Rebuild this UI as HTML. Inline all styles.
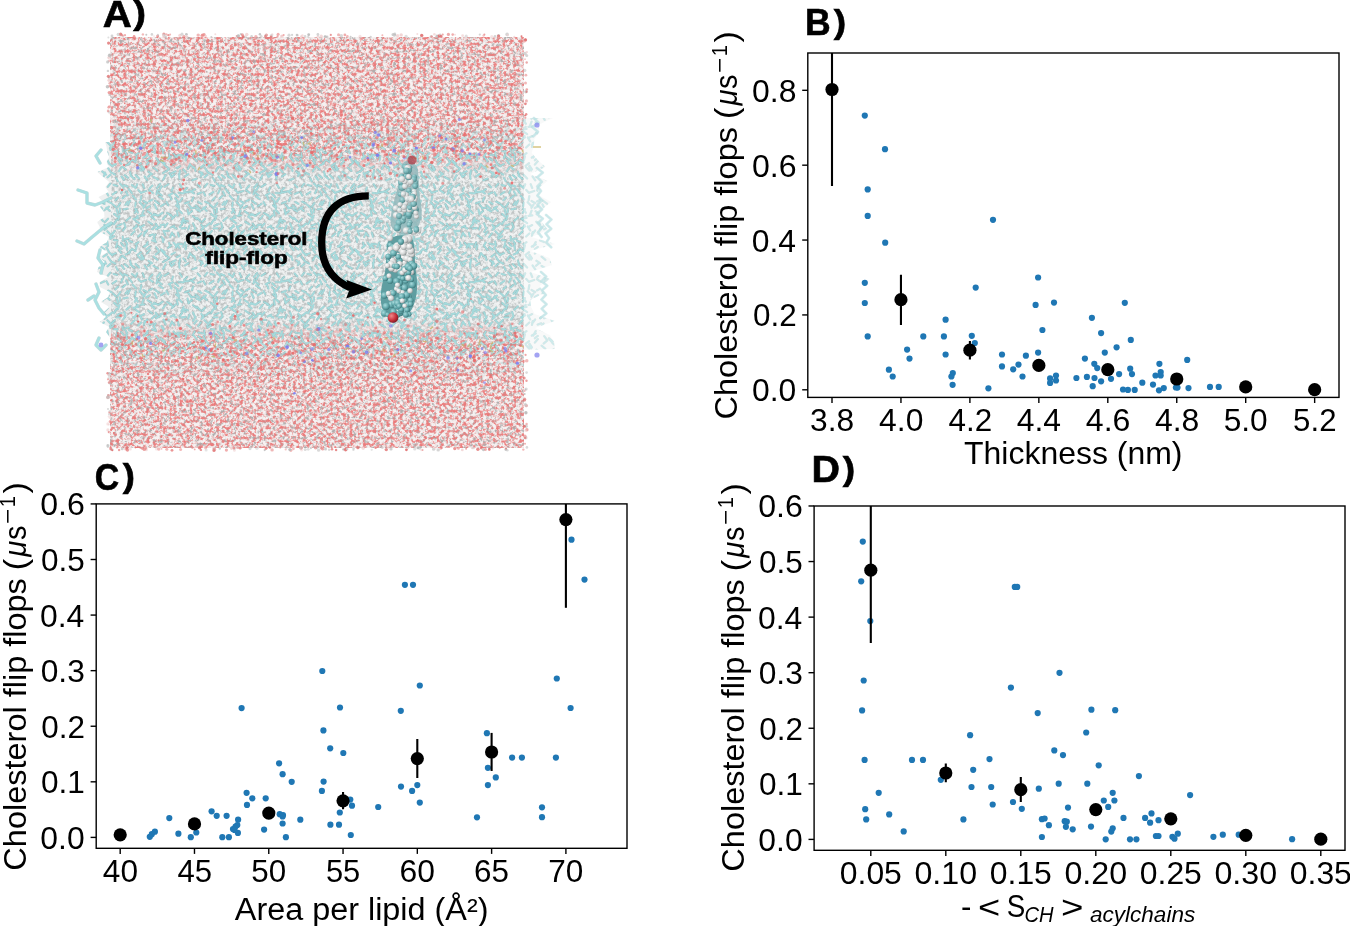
<!DOCTYPE html>
<html><head><meta charset="utf-8"><title>Cholesterol flip-flop figure</title><style>html,body{margin:0;padding:0;background:#fff;width:1350px;height:926px;overflow:hidden}</style></head><body>
<svg width="1350" height="926" viewBox="0 0 1350 926" style="position:absolute;left:0;top:0;will-change:transform">
<g style="font-family:'Liberation Sans',sans-serif;font-kerning:none" fill="#000">
<rect width="1350" height="926" fill="#fff"/>
<defs>
<clipPath id="cA"><rect x="110.5" y="37.0" width="413.5" height="410.5"/></clipPath>
<filter id="fW" x="0" y="0" width="1" height="1" filterUnits="objectBoundingBox" color-interpolation-filters="sRGB">
<feTurbulence type="fractalNoise" baseFrequency="0.3" numOctaves="3" seed="11" result="t1"/>
<feColorMatrix in="t1" type="matrix" values="0 0 0 0 0.92  0 0 0 0 0.48  0 0 0 0 0.48  1.8 0 0 0 -0.47" result="r1"/>
<feComponentTransfer in="r1" result="red"><feFuncA type="table" tableValues="0 0 0.1 0.6 0.9 1"/></feComponentTransfer>
<feTurbulence type="fractalNoise" baseFrequency="0.3" numOctaves="3" seed="29" result="t2"/>
<feColorMatrix in="t2" type="matrix" values="0 0 0 0 0.65  0 0 0 0 0.64  0 0 0 0 0.64  0 1.7 0 0 -0.49" result="g1"/>
<feComponentTransfer in="g1" result="grey"><feFuncA type="table" tableValues="0 0 0.15 0.6 0.85 0.9"/></feComponentTransfer>
<feFlood flood-color="#f6f2f2" result="w"/>
<feMerge><feMergeNode in="w"/><feMergeNode in="grey"/><feMergeNode in="red"/></feMerge>
</filter>
<filter id="fL" x="0" y="0" width="1" height="1" filterUnits="objectBoundingBox" color-interpolation-filters="sRGB">
<feTurbulence type="fractalNoise" baseFrequency="0.33" numOctaves="3" seed="17" result="t2"/>
<feColorMatrix in="t2" type="matrix" values="0 0 0 0 0.72  0 0 0 0 0.74  0 0 0 0 0.74  0 1.7 0 0 -0.42" result="g1"/>
<feComponentTransfer in="g1" result="grey"><feFuncA type="table" tableValues="0 0 0.2 0.6 0.85 0.9"/></feComponentTransfer>
<feTurbulence type="fractalNoise" baseFrequency="0.3" numOctaves="2" seed="41" result="t3"/>
<feColorMatrix in="t3" type="matrix" values="0 0 0 0 0.72  0 0 0 0 0.88  0 0 0 0 0.89  1.7 0 0 0 -0.45" result="c1"/>
<feComponentTransfer in="c1" result="cy"><feFuncA type="table" tableValues="0 0 0.1 0.5 0.8 0.9"/></feComponentTransfer>
<feFlood flood-color="#f0f2f2" result="w"/>
<feMerge><feMergeNode in="w"/><feMergeNode in="grey"/></feMerge>
</filter>
<linearGradient id="gL" x1="0" y1="0" x2="0" y2="460" gradientUnits="userSpaceOnUse">
<stop offset="0.326" stop-color="#fff" stop-opacity="0"/>
<stop offset="0.38" stop-color="#fff" stop-opacity="1"/>
<stop offset="0.695" stop-color="#fff" stop-opacity="1"/>
<stop offset="0.75" stop-color="#fff" stop-opacity="0"/>
</linearGradient>
<linearGradient id="gB" x1="0" y1="0" x2="0" y2="460" gradientUnits="userSpaceOnUse">
<stop offset="0.255" stop-color="#fff" stop-opacity="0"/>
<stop offset="0.30" stop-color="#fff" stop-opacity="0.6"/>
<stop offset="0.34" stop-color="#fff" stop-opacity="1"/>
<stop offset="0.73" stop-color="#fff" stop-opacity="1"/>
<stop offset="0.775" stop-color="#fff" stop-opacity="0.6"/>
<stop offset="0.825" stop-color="#fff" stop-opacity="0"/>
</linearGradient>
<mask id="mL" maskUnits="userSpaceOnUse" x="0" y="0" width="600" height="460"><rect x="0" y="0" width="600" height="460" fill="url(#gL)"/></mask>
<mask id="mB" maskUnits="userSpaceOnUse" x="0" y="0" width="600" height="460"><rect x="0" y="0" width="600" height="460" fill="url(#gB)"/></mask>
<pattern id="pB" patternUnits="userSpaceOnUse" x="3" y="7" width="97" height="89"><g fill="none" stroke-linecap="round"><path d="M-4.1 31.1l3.6 2.9M-1.4 42.9l-2.4 3.9M-0.4 46.8l-2.3 2.9M-3.2 61.6l2.8 3.5M-2.7 71.1l1.2 3.9M-0.5 82.6l-4.2 1.8M0.7 -0.5l2.5 2.8M10.3 -1.3l-2.5 3.1M13.5 -0.2l3.6 1M19.9 -1.6l3.3 3.7M24 0.1l3.5 1.5M31.9 0l3 2.2M37.2 -0.7l-1.6 3.8M42.7 -0.8l1.5 3.8M52.4 0.5l-2.9 3.1M60.2 -1l-3.3 3.9M61.6 1.2l-2.3 4.3M68.4 -0.7l-3.9 2.5M73 2.5l-1.3 3.4M79.8 -0.7l2 3.4M87.2 2.9l-3 3.1M94.9 4.1l-3.3 2.4M4.3 7.4l-3.6 1.6M6.5 7.3l1.7 3.2M16.4 6.9l-3.8 2.6M22.9 4.4l-1.8 3.8M26 6.5l1.8 3.7M28.8 4l3.1 4.1M38.3 4.9l2.8 3.1M46.2 6l-4.1 1.4M49 5.2l3.8 2.7M57.7 5.1l-1.2 4.3M58.6 8l3.1 2.3M72.7 8.2l-4.1 2.1M75.3 9.2l2.9 2.8M78.7 7.9l4.8 0.5M89.4 6.8l-5.1 0.7M90.4 6.3l3.6 2.1M1.3 16.9l3.2 2M8.2 16.6l3.5 1.7M18 12.6l-2.6 2.8M25.4 10.9l-2.9 2.5M30.1 15.7l-2.3 4.3M32.7 10.8l3.4 3.7M41.3 11.2l-0.7 4.1M43.5 16l3.6 2.1M52.4 14.6l-3.4 1.8M55.1 15.8l3.9 2.9M59.1 11.5l3.7 2.6M70 10.7l1.4 3.8M75.1 13.3l3 3.5M82.3 13.2l-2.5 3.7M88.9 16.8l-4 1.6M93.3 12.5l-1.5 3.7M-1.2 20.4l3.4 3.2M8.9 21.7l-4.1 3.1M12.9 19.5l3.1 2.8M20.4 18l-2.5 3.7M27.7 16.6l-2.2 3.1M35.7 17.4l-0.4 4M39.7 17.2l3.5 3.7M45.5 19.7l-2.1 3.1M49.9 21.2l-3.2 1.9M54.5 19.4l2.2 4.5M64.6 18.9l-3.8 2.3M66.5 16.9l1.8 3.4M76.1 20.3l3 2.9M77.1 17.5l2 3.9M88.5 19.4l2.7 3.3M95 22.6l-4 0.8M-0.6 24.4l3.8 2M6.4 22.7l3.3 3.2M16.7 24.3l1.1 4.5M19.8 23.5l-0.2 3.9M27.6 23.7l-3.9 0.7M36.8 24.1l-2 3.6M35.1 23.6l2.7 4.1M43.6 25.6l-1.4 3.8M47.6 26.3l3.5 2.3M53.9 28.9l4.2 1.9M62.7 27.7l-3.7 2.5M67 28l4.1 2M76.9 25.6l0.8 5.1M78.7 25l3.2 3.3M87.5 24.5l1.1 4.9M92 25.9l-2.8 2.4M-0.1 32.6l3.4 3.6M8 33.7l-3 3.4M14.1 29l3.6 2.9M19.5 30.7l-1.4 4.4M30 32.5l-3.6 3.2M38.5 32.8l-5 1.1M37.7 30.8l-3.2 4M44.3 30.3l-3.8 0.5M51.3 31.6l3.3 2.9M56.3 29.7l-4.2 0.6M65.8 30.6l-3 3.8M69 29.2l4 3M75.5 30.4l-3.5 3.6M83.6 32.9l-2.1 4.5M83.4 34.9l4.6 1.4M92.9 31.1l3.6 2.9M4.4 39.8l2.2 3.7M12.5 38.3l-3.9 3.2M16.7 34.8l-2.7 4.4M21.7 39l-4.3 1.9M24.1 38l1.3 3.7M36.6 40.1l-2.4 3.8M35.9 35.9l3.2 2.2M44.1 40.1l-3.9 2.2M48.3 36.7l3.9 2.6M55.7 38.7l2.9 4.1M64.1 39.5l-3.6 0.7M67.5 38.5l-2.7 3.4M74.1 40.7l-3.4 1.8M82.6 38.1l-2.8 3.9M82.4 35.5l3.2 2.4M93 38.3l1.6 3.8M6.8 41.4l-2.2 3.4M7.4 46.3l2.8 2.8M14.9 45.9l-2.9 3.6M20.5 43.3l-4 0.1M25.5 42.4l-2.5 3.2M36.9 41.5l-3.6 1.9M39.8 41.4l2.3 4M47.1 45.5l-2.8 3.7M55.2 41.4l-3.1 2.9M60.5 41.9l-4.4 2.3M63.4 45.8l2 4.4M68.8 45.9l-5.2 0.2M73.1 41.6l3.2 2M85.8 43l-4.1 0.5M89.5 40.6l-1.3 3.9M95.6 42.9l-2.4 3.9M3.9 48.4l-2.9 3.8M12.8 47.9l-2.8 4.3M14.1 51.1l-3.7 2.7M22.7 51.7l0.3 4M28.7 53.3l-3.7 0.8M34.6 46.3l-3.3 3.5M41.3 48.5l-3.2 3M44.6 47.2l-0.6 3.6M53.1 49.3l-3.5 1.3M55.6 49.4l-2 3.3M61.5 51.9l2.5 2.8M72 47.6l-1.8 4.4M71.9 48l2.5 3M77.9 47.6l1 3.9M86.8 50.5l4.1 2.8M96.6 46.8l-2.3 2.9M1.5 58.6l4.3 0.7M7.2 56.4l0.7 4.5M17.5 55.5l-3.6 -0.4M21 57.8l2.7 3.3M25.4 56.1l1.8 3.3M28.9 55.6l3.4 1.5M38.5 57.1l-3 2.1M47.7 57.1l-2.4 4.4M52 55.4l4 1.6M54 52.4l1.9 4.7M62.3 52.9l0.8 4.2M69.1 57.6l0.8 4M73.6 57.7l3.1 3.8M77.6 58.9l4.4 0.2M85.3 57.3l-2 4.6M94.7 57.4l-1.8 3.5M1.3 62.3l3.1 2.2M6.4 62.4l2.2 3.9M17.2 58l-1.2 4.4M18 61.1l3.7 2.9M26.3 60.5l0.7 4.3M31.9 63.8l3.6 2.3M36.8 60.4l-0.8 3.6M47.7 59.4l-3.9 2.2M49.8 61.9l-2.9 2.3M56.2 62.1l3.1 4.2M61 64.3l3.9 3M71.2 60.2l-3.1 2.6M78 59.1l-2.2 3.5M77.1 59.4l2.2 3.4M86.3 60.2l-0.7 4.1M93.8 61.6l2.8 3.5M6.8 69.2l-3.4 2.4M8.6 67l3.9 3.3M15.9 68.2l-4.3 1.7M18.7 64.4l2.4 3.3M29.9 67.6l-4.2 1.9M31.7 64.4l-3.1 3.2M41 67.2l-3.5 2.6M41.6 69.8l2.3 3.6M49.9 65.1l-3 3.5M59.1 66.7l-3.4 2.8M61.6 65.5l2.7 3M64.5 69.2l3.6 2.9M75 67.5l-3.6 1.9M79.9 70.5l-3.2 1.6M90.1 68.1l-2.1 4.8M89.9 68.2l3.4 3.4M2.3 75.5l3.7 3.1M7.9 71.8l2.5 3.7M10.8 76.2l4.4 2.4M21.1 71.5l-2.3 3.8M22.3 70.7l3.5 2.9M29.9 75.7l1.2 3.6M38.1 71.3l3.2 3.3M41.2 70.4l2 4.1M48.4 75.8l3.6 2.3M53.6 71.6l3.8 3.2M66.9 74.7l-4 2.3M69.2 72.6l-2.9 2.8M75.6 75.3l-3.9 2M80 74.3l-0.6 4.4M83.4 73.4l2.4 2.9M94.3 71.1l1.2 3.9M5.1 76.5l-1.2 3.7M10.4 78.8l-2.9 2.5M16 82l1.8 3.3M21.5 80.5l2.5 3.4M24.8 79.1l3.1 2.6M30.6 79.7l3.9 3.2M35.7 78.9l3.4 3.6M44.6 80.5l2.7 3.8M51.1 78.2l-3 2.5M53.6 80.9l4.5 2.6M65.5 79.3l-2.4 4.6M69.6 76.9l1.6 3.5M74.3 78.6l-2.8 2.5M78.9 77.9l0.6 4.9M88.4 78.1l-3.5 2.4M96.5 82.6l-4.2 1.8M0.7 88.5l2.5 2.8M10.3 87.7l-2.5 3.1M13.5 88.8l3.6 1M19.9 87.4l3.3 3.7M24 89.1l3.5 1.5M31.9 89l3 2.2M37.2 88.3l-1.6 3.8M42.7 88.2l1.5 3.8M52.4 89.5l-2.9 3.1M60.2 88l-3.3 3.9M61.6 90.2l-2.3 4.3M68.4 88.3l-3.9 2.5M79.8 88.3l2 3.4M97.7 -0.5l2.5 2.8M101.3 7.4l-3.6 1.6M98.3 16.9l3.2 2M95.8 20.4l3.4 3.2M96.4 24.4l3.8 2M96.9 32.6l3.4 3.6M100.9 48.4l-2.9 3.8M98.5 58.6l4.3 0.7M98.3 62.3l3.1 2.2M97.7 88.5l2.5 2.8" stroke="#74acae" stroke-width="2.3" opacity="0.5"/><path d="M-4.1 31.1l3.6 2.9M-1.4 42.9l-2.4 3.9M-0.4 46.8l-2.3 2.9M-3.2 61.6l2.8 3.5M-2.7 71.1l1.2 3.9M-0.5 82.6l-4.2 1.8M0.7 -0.5l2.5 2.8M10.3 -1.3l-2.5 3.1M13.5 -0.2l3.6 1M19.9 -1.6l3.3 3.7M24 0.1l3.5 1.5M31.9 0l3 2.2M37.2 -0.7l-1.6 3.8M42.7 -0.8l1.5 3.8M52.4 0.5l-2.9 3.1M60.2 -1l-3.3 3.9M61.6 1.2l-2.3 4.3M68.4 -0.7l-3.9 2.5M73 2.5l-1.3 3.4M79.8 -0.7l2 3.4M87.2 2.9l-3 3.1M94.9 4.1l-3.3 2.4M4.3 7.4l-3.6 1.6M6.5 7.3l1.7 3.2M16.4 6.9l-3.8 2.6M22.9 4.4l-1.8 3.8M26 6.5l1.8 3.7M28.8 4l3.1 4.1M38.3 4.9l2.8 3.1M46.2 6l-4.1 1.4M49 5.2l3.8 2.7M57.7 5.1l-1.2 4.3M58.6 8l3.1 2.3M72.7 8.2l-4.1 2.1M75.3 9.2l2.9 2.8M78.7 7.9l4.8 0.5M89.4 6.8l-5.1 0.7M90.4 6.3l3.6 2.1M1.3 16.9l3.2 2M8.2 16.6l3.5 1.7M18 12.6l-2.6 2.8M25.4 10.9l-2.9 2.5M30.1 15.7l-2.3 4.3M32.7 10.8l3.4 3.7M41.3 11.2l-0.7 4.1M43.5 16l3.6 2.1M52.4 14.6l-3.4 1.8M55.1 15.8l3.9 2.9M59.1 11.5l3.7 2.6M70 10.7l1.4 3.8M75.1 13.3l3 3.5M82.3 13.2l-2.5 3.7M88.9 16.8l-4 1.6M93.3 12.5l-1.5 3.7M-1.2 20.4l3.4 3.2M8.9 21.7l-4.1 3.1M12.9 19.5l3.1 2.8M20.4 18l-2.5 3.7M27.7 16.6l-2.2 3.1M35.7 17.4l-0.4 4M39.7 17.2l3.5 3.7M45.5 19.7l-2.1 3.1M49.9 21.2l-3.2 1.9M54.5 19.4l2.2 4.5M64.6 18.9l-3.8 2.3M66.5 16.9l1.8 3.4M76.1 20.3l3 2.9M77.1 17.5l2 3.9M88.5 19.4l2.7 3.3M95 22.6l-4 0.8M-0.6 24.4l3.8 2M6.4 22.7l3.3 3.2M16.7 24.3l1.1 4.5M19.8 23.5l-0.2 3.9M27.6 23.7l-3.9 0.7M36.8 24.1l-2 3.6M35.1 23.6l2.7 4.1M43.6 25.6l-1.4 3.8M47.6 26.3l3.5 2.3M53.9 28.9l4.2 1.9M62.7 27.7l-3.7 2.5M67 28l4.1 2M76.9 25.6l0.8 5.1M78.7 25l3.2 3.3M87.5 24.5l1.1 4.9M92 25.9l-2.8 2.4M-0.1 32.6l3.4 3.6M8 33.7l-3 3.4M14.1 29l3.6 2.9M19.5 30.7l-1.4 4.4M30 32.5l-3.6 3.2M38.5 32.8l-5 1.1M37.7 30.8l-3.2 4M44.3 30.3l-3.8 0.5M51.3 31.6l3.3 2.9M56.3 29.7l-4.2 0.6M65.8 30.6l-3 3.8M69 29.2l4 3M75.5 30.4l-3.5 3.6M83.6 32.9l-2.1 4.5M83.4 34.9l4.6 1.4M92.9 31.1l3.6 2.9M4.4 39.8l2.2 3.7M12.5 38.3l-3.9 3.2M16.7 34.8l-2.7 4.4M21.7 39l-4.3 1.9M24.1 38l1.3 3.7M36.6 40.1l-2.4 3.8M35.9 35.9l3.2 2.2M44.1 40.1l-3.9 2.2M48.3 36.7l3.9 2.6M55.7 38.7l2.9 4.1M64.1 39.5l-3.6 0.7M67.5 38.5l-2.7 3.4M74.1 40.7l-3.4 1.8M82.6 38.1l-2.8 3.9M82.4 35.5l3.2 2.4M93 38.3l1.6 3.8M6.8 41.4l-2.2 3.4M7.4 46.3l2.8 2.8M14.9 45.9l-2.9 3.6M20.5 43.3l-4 0.1M25.5 42.4l-2.5 3.2M36.9 41.5l-3.6 1.9M39.8 41.4l2.3 4M47.1 45.5l-2.8 3.7M55.2 41.4l-3.1 2.9M60.5 41.9l-4.4 2.3M63.4 45.8l2 4.4M68.8 45.9l-5.2 0.2M73.1 41.6l3.2 2M85.8 43l-4.1 0.5M89.5 40.6l-1.3 3.9M95.6 42.9l-2.4 3.9M3.9 48.4l-2.9 3.8M12.8 47.9l-2.8 4.3M14.1 51.1l-3.7 2.7M22.7 51.7l0.3 4M28.7 53.3l-3.7 0.8M34.6 46.3l-3.3 3.5M41.3 48.5l-3.2 3M44.6 47.2l-0.6 3.6M53.1 49.3l-3.5 1.3M55.6 49.4l-2 3.3M61.5 51.9l2.5 2.8M72 47.6l-1.8 4.4M71.9 48l2.5 3M77.9 47.6l1 3.9M86.8 50.5l4.1 2.8M96.6 46.8l-2.3 2.9M1.5 58.6l4.3 0.7M7.2 56.4l0.7 4.5M17.5 55.5l-3.6 -0.4M21 57.8l2.7 3.3M25.4 56.1l1.8 3.3M28.9 55.6l3.4 1.5M38.5 57.1l-3 2.1M47.7 57.1l-2.4 4.4M52 55.4l4 1.6M54 52.4l1.9 4.7M62.3 52.9l0.8 4.2M69.1 57.6l0.8 4M73.6 57.7l3.1 3.8M77.6 58.9l4.4 0.2M85.3 57.3l-2 4.6M94.7 57.4l-1.8 3.5M1.3 62.3l3.1 2.2M6.4 62.4l2.2 3.9M17.2 58l-1.2 4.4M18 61.1l3.7 2.9M26.3 60.5l0.7 4.3M31.9 63.8l3.6 2.3M36.8 60.4l-0.8 3.6M47.7 59.4l-3.9 2.2M49.8 61.9l-2.9 2.3M56.2 62.1l3.1 4.2M61 64.3l3.9 3M71.2 60.2l-3.1 2.6M78 59.1l-2.2 3.5M77.1 59.4l2.2 3.4M86.3 60.2l-0.7 4.1M93.8 61.6l2.8 3.5M6.8 69.2l-3.4 2.4M8.6 67l3.9 3.3M15.9 68.2l-4.3 1.7M18.7 64.4l2.4 3.3M29.9 67.6l-4.2 1.9M31.7 64.4l-3.1 3.2M41 67.2l-3.5 2.6M41.6 69.8l2.3 3.6M49.9 65.1l-3 3.5M59.1 66.7l-3.4 2.8M61.6 65.5l2.7 3M64.5 69.2l3.6 2.9M75 67.5l-3.6 1.9M79.9 70.5l-3.2 1.6M90.1 68.1l-2.1 4.8M89.9 68.2l3.4 3.4M2.3 75.5l3.7 3.1M7.9 71.8l2.5 3.7M10.8 76.2l4.4 2.4M21.1 71.5l-2.3 3.8M22.3 70.7l3.5 2.9M29.9 75.7l1.2 3.6M38.1 71.3l3.2 3.3M41.2 70.4l2 4.1M48.4 75.8l3.6 2.3M53.6 71.6l3.8 3.2M66.9 74.7l-4 2.3M69.2 72.6l-2.9 2.8M75.6 75.3l-3.9 2M80 74.3l-0.6 4.4M83.4 73.4l2.4 2.9M94.3 71.1l1.2 3.9M5.1 76.5l-1.2 3.7M10.4 78.8l-2.9 2.5M16 82l1.8 3.3M21.5 80.5l2.5 3.4M24.8 79.1l3.1 2.6M30.6 79.7l3.9 3.2M35.7 78.9l3.4 3.6M44.6 80.5l2.7 3.8M51.1 78.2l-3 2.5M53.6 80.9l4.5 2.6M65.5 79.3l-2.4 4.6M69.6 76.9l1.6 3.5M74.3 78.6l-2.8 2.5M78.9 77.9l0.6 4.9M88.4 78.1l-3.5 2.4M96.5 82.6l-4.2 1.8M0.7 88.5l2.5 2.8M10.3 87.7l-2.5 3.1M13.5 88.8l3.6 1M19.9 87.4l3.3 3.7M24 89.1l3.5 1.5M31.9 89l3 2.2M37.2 88.3l-1.6 3.8M42.7 88.2l1.5 3.8M52.4 89.5l-2.9 3.1M60.2 88l-3.3 3.9M61.6 90.2l-2.3 4.3M68.4 88.3l-3.9 2.5M79.8 88.3l2 3.4M97.7 -0.5l2.5 2.8M101.3 7.4l-3.6 1.6M98.3 16.9l3.2 2M95.8 20.4l3.4 3.2M96.4 24.4l3.8 2M96.9 32.6l3.4 3.6M100.9 48.4l-2.9 3.8M98.5 58.6l4.3 0.7M98.3 62.3l3.1 2.2M97.7 88.5l2.5 2.8" stroke="#a2dcde" stroke-width="1.3"/></g></pattern>
</defs>
<rect x="110.5" y="37.0" width="413.5" height="410.5" filter="url(#fW)"/>
<g mask="url(#mL)"><rect x="110.5" y="37.0" width="413.5" height="410.5" filter="url(#fL)"/></g>
<g mask="url(#mB)"><rect x="110.5" y="37.0" width="413.5" height="410.5" fill="url(#pB)"/></g>
<g clip-path="url(#cA)">
<circle cx="377.5" cy="155.3" r="1.8" fill="#7a7cf0" opacity="0.9"/>
<circle cx="375.3" cy="132.5" r="1.7" fill="#7a7cf0" opacity="0.7"/>
<circle cx="186.8" cy="154.3" r="1.5" fill="#7a7cf0" opacity="0.8"/>
<circle cx="478.9" cy="154.2" r="1.5" fill="#7a7cf0" opacity="0.7"/>
<circle cx="404.3" cy="157.9" r="1.6" fill="#7a7cf0" opacity="0.6"/>
<circle cx="464.1" cy="163.8" r="1.7" fill="#7a7cf0" opacity="0.8"/>
<circle cx="470" cy="153.7" r="1.3" fill="#7a7cf0" opacity="0.9"/>
<circle cx="484.4" cy="140" r="1.4" fill="#7a7cf0" opacity="0.7"/>
<circle cx="201.7" cy="140.3" r="1.4" fill="#7a7cf0" opacity="0.7"/>
<circle cx="459.4" cy="119.6" r="1.6" fill="#7a7cf0" opacity="0.7"/>
<circle cx="307.3" cy="165.4" r="1.6" fill="#7a7cf0" opacity="0.7"/>
<circle cx="416.4" cy="148" r="1.6" fill="#7a7cf0" opacity="0.9"/>
<circle cx="187.8" cy="120.5" r="1.8" fill="#7a7cf0" opacity="0.8"/>
<circle cx="373.6" cy="143.8" r="1.5" fill="#7a7cf0" opacity="0.7"/>
<circle cx="137.7" cy="167.8" r="1.7" fill="#7a7cf0" opacity="0.8"/>
<circle cx="350.1" cy="157.1" r="1.4" fill="#7a7cf0" opacity="0.7"/>
<circle cx="276.5" cy="174.1" r="2" fill="#7a7cf0" opacity="0.9"/>
<circle cx="301.7" cy="137.6" r="1.4" fill="#7a7cf0" opacity="0.9"/>
<circle cx="140.7" cy="148.2" r="1.7" fill="#7a7cf0" opacity="0.9"/>
<circle cx="446.1" cy="139.1" r="1.4" fill="#7a7cf0" opacity="0.8"/>
<circle cx="452.7" cy="149.2" r="2" fill="#7a7cf0" opacity="0.9"/>
<circle cx="378.5" cy="135.1" r="1.8" fill="#7a7cf0" opacity="0.8"/>
<circle cx="433.4" cy="148.1" r="1.8" fill="#7a7cf0" opacity="0.9"/>
<circle cx="390.5" cy="163" r="1.6" fill="#7a7cf0" opacity="0.9"/>
<circle cx="439.7" cy="135.9" r="1.5" fill="#7a7cf0" opacity="0.8"/>
<circle cx="367.8" cy="158.5" r="1.4" fill="#7a7cf0" opacity="0.9"/>
<circle cx="175.1" cy="142.4" r="1.4" fill="#7a7cf0" opacity="0.8"/>
<circle cx="245.5" cy="156.2" r="2" fill="#7a7cf0" opacity="0.8"/>
<circle cx="253.8" cy="132" r="1.4" fill="#7a7cf0" opacity="0.6"/>
<circle cx="232.5" cy="138" r="1.7" fill="#7a7cf0" opacity="0.8"/>
<circle cx="462.3" cy="150.7" r="1.8" fill="#7a7cf0" opacity="0.7"/>
<circle cx="277.3" cy="157.1" r="1.7" fill="#7a7cf0" opacity="0.8"/>
<circle cx="394.2" cy="150.7" r="1.9" fill="#7a7cf0" opacity="0.8"/>
<circle cx="373.2" cy="145.3" r="1.5" fill="#7a7cf0" opacity="0.8"/>
<path d="M199.8 167.2l-1.8 3" stroke="#c9b56a" stroke-width="1.4" opacity="0.8"/>
<path d="M160.4 160.2l3.3 1.3" stroke="#c9b56a" stroke-width="1.4" opacity="0.8"/>
<path d="M284.1 156.7l-0.6 3.4" stroke="#c9b56a" stroke-width="1.4" opacity="0.8"/>
<path d="M310.8 143l-3.3 1" stroke="#c9b56a" stroke-width="1.4" opacity="0.8"/>
<path d="M399.3 152.1l-1.1 3.3" stroke="#c9b56a" stroke-width="1.4" opacity="0.8"/>
<path d="M413.3 157.4l3.1 1.7" stroke="#c9b56a" stroke-width="1.4" opacity="0.8"/>
<path d="M243.8 148.5l2.1 2.8" stroke="#c9b56a" stroke-width="1.4" opacity="0.8"/>
<path d="M303.2 142l0.8 3.4" stroke="#c9b56a" stroke-width="1.4" opacity="0.8"/>
<path d="M522 149.5l1.5 3.2" stroke="#c9b56a" stroke-width="1.4" opacity="0.8"/>
<path d="M377.3 146.9l3.5 0.2" stroke="#c9b56a" stroke-width="1.4" opacity="0.8"/>
<path d="M131.3 149.2l-2.9 2" stroke="#c9b56a" stroke-width="1.4" opacity="0.8"/>
<path d="M151 118.7l0.2 3.5" stroke="#c9b56a" stroke-width="1.4" opacity="0.8"/>
<path d="M422.6 155.8l0.9 3.4" stroke="#c9b56a" stroke-width="1.4" opacity="0.8"/>
<path d="M164.5 156.9l3.3 1" stroke="#c9b56a" stroke-width="1.4" opacity="0.8"/>
<path d="M382.4 143.5l-0.6 3.4" stroke="#c9b56a" stroke-width="1.4" opacity="0.8"/>
<path d="M486.1 165.1l2.2 2.7" stroke="#c9b56a" stroke-width="1.4" opacity="0.8"/>
<path d="M252.5 152l2.2 2.8" stroke="#c9b56a" stroke-width="1.4" opacity="0.8"/>
<path d="M257.9 155l0.1 3.5" stroke="#c9b56a" stroke-width="1.4" opacity="0.8"/>
<path d="M249.2 170.2l1.6 3.1" stroke="#c9b56a" stroke-width="1.4" opacity="0.8"/>
<path d="M195.8 150.2l0.1 3.5" stroke="#c9b56a" stroke-width="1.4" opacity="0.8"/>
<path d="M160.8 157l3.2 1.4" stroke="#c9b56a" stroke-width="1.4" opacity="0.8"/>
<path d="M510.8 165.3l3.4 1" stroke="#c9b56a" stroke-width="1.4" opacity="0.8"/>
<circle cx="521.6" cy="135.6" r="1.3" fill="#e86a6a" opacity="0.7"/>
<circle cx="275.5" cy="164.1" r="1.1" fill="#e86a6a" opacity="0.5"/>
<circle cx="449.7" cy="125.1" r="1" fill="#e86a6a" opacity="0.7"/>
<circle cx="335.2" cy="156.3" r="1.3" fill="#e86a6a" opacity="0.6"/>
<circle cx="388.7" cy="139.8" r="1.1" fill="#e86a6a" opacity="0.5"/>
<circle cx="372.2" cy="121.7" r="1.4" fill="#e86a6a" opacity="0.6"/>
<circle cx="384.6" cy="163.4" r="1.1" fill="#e86a6a" opacity="0.9"/>
<circle cx="117" cy="139.7" r="1.6" fill="#e86a6a" opacity="0.6"/>
<circle cx="238.8" cy="144.1" r="1.1" fill="#e86a6a" opacity="0.5"/>
<circle cx="119.9" cy="121.1" r="1.4" fill="#e86a6a" opacity="0.7"/>
<circle cx="487.5" cy="132.6" r="1.6" fill="#e86a6a" opacity="0.8"/>
<circle cx="284.8" cy="152.3" r="1.5" fill="#e86a6a" opacity="0.7"/>
<circle cx="139.2" cy="142.9" r="1.7" fill="#e86a6a" opacity="0.8"/>
<circle cx="175.4" cy="132.6" r="1.5" fill="#e86a6a" opacity="0.7"/>
<circle cx="145.6" cy="118.5" r="1.4" fill="#e86a6a" opacity="0.7"/>
<circle cx="115.3" cy="157.9" r="1.5" fill="#e86a6a" opacity="0.9"/>
<circle cx="464.8" cy="153.6" r="1.3" fill="#e86a6a" opacity="0.6"/>
<circle cx="345.6" cy="160" r="1.3" fill="#e86a6a" opacity="0.8"/>
<circle cx="491.2" cy="134.3" r="1.5" fill="#e86a6a" opacity="0.6"/>
<circle cx="424" cy="171.8" r="1.2" fill="#e86a6a" opacity="0.7"/>
<circle cx="316.5" cy="135.7" r="1.6" fill="#e86a6a" opacity="0.5"/>
<circle cx="124.7" cy="122.6" r="1" fill="#e86a6a" opacity="0.9"/>
<circle cx="394.1" cy="140.3" r="1.2" fill="#e86a6a" opacity="0.7"/>
<circle cx="505.6" cy="141.3" r="1.6" fill="#e86a6a" opacity="0.7"/>
<circle cx="241.6" cy="176.5" r="1.3" fill="#e86a6a" opacity="0.6"/>
<circle cx="509.2" cy="143.8" r="1.1" fill="#e86a6a" opacity="0.9"/>
<circle cx="179" cy="157.8" r="1.5" fill="#e86a6a" opacity="0.7"/>
<circle cx="223.4" cy="134.7" r="1.5" fill="#e86a6a" opacity="0.6"/>
<circle cx="226.7" cy="135.3" r="1.6" fill="#e86a6a" opacity="0.7"/>
<circle cx="469.3" cy="135.9" r="1.5" fill="#e86a6a" opacity="0.5"/>
<circle cx="173.7" cy="162.5" r="1.7" fill="#e86a6a" opacity="0.6"/>
<circle cx="270.9" cy="133.6" r="1.3" fill="#e86a6a" opacity="0.8"/>
<circle cx="207.9" cy="128.7" r="1.2" fill="#e86a6a" opacity="0.6"/>
<circle cx="176.2" cy="159.4" r="1.6" fill="#e86a6a" opacity="0.8"/>
<circle cx="433.7" cy="149.9" r="1.6" fill="#e86a6a" opacity="0.9"/>
<circle cx="172" cy="160.6" r="1.7" fill="#e86a6a" opacity="0.8"/>
<circle cx="336.9" cy="155.2" r="1.4" fill="#e86a6a" opacity="0.7"/>
<circle cx="311" cy="133.4" r="1.3" fill="#e86a6a" opacity="0.8"/>
<circle cx="408.7" cy="165.7" r="1" fill="#e86a6a" opacity="0.7"/>
<circle cx="403" cy="150.5" r="1.6" fill="#e86a6a" opacity="0.7"/>
<circle cx="115.4" cy="137" r="1.4" fill="#e86a6a" opacity="0.6"/>
<circle cx="137.3" cy="165.2" r="1.3" fill="#e86a6a" opacity="0.7"/>
<circle cx="218.3" cy="159" r="1.4" fill="#e86a6a" opacity="0.6"/>
<circle cx="199" cy="139.8" r="1.1" fill="#e86a6a" opacity="0.8"/>
<circle cx="230.8" cy="138.7" r="1.5" fill="#e86a6a" opacity="0.8"/>
<circle cx="212.9" cy="144.9" r="1.6" fill="#e86a6a" opacity="0.7"/>
<circle cx="468" cy="139.6" r="1.1" fill="#e86a6a" opacity="0.6"/>
<circle cx="124" cy="164.9" r="1.2" fill="#e86a6a" opacity="0.7"/>
<circle cx="150.2" cy="161.1" r="1.4" fill="#e86a6a" opacity="0.7"/>
<circle cx="199.4" cy="183.1" r="1.6" fill="#e86a6a" opacity="0.6"/>
<circle cx="151.5" cy="131.7" r="1.4" fill="#e86a6a" opacity="0.6"/>
<circle cx="458.7" cy="159" r="1.2" fill="#e86a6a" opacity="0.9"/>
<circle cx="267.1" cy="156.2" r="1.3" fill="#e86a6a" opacity="0.8"/>
<circle cx="311.8" cy="152.7" r="1.6" fill="#e86a6a" opacity="0.9"/>
<circle cx="466.6" cy="128.9" r="1.5" fill="#e86a6a" opacity="0.5"/>
<circle cx="242.6" cy="124.2" r="1.2" fill="#e86a6a" opacity="0.5"/>
<circle cx="490.4" cy="141.8" r="1.6" fill="#e86a6a" opacity="0.6"/>
<circle cx="208.3" cy="151.6" r="1.5" fill="#e86a6a" opacity="0.6"/>
<circle cx="499" cy="157.2" r="1.4" fill="#e86a6a" opacity="0.5"/>
<circle cx="489.7" cy="150" r="1.2" fill="#e86a6a" opacity="0.7"/>
<circle cx="415.8" cy="153.3" r="1.1" fill="#e86a6a" opacity="0.6"/>
<circle cx="113.9" cy="133.7" r="1.1" fill="#e86a6a" opacity="0.8"/>
<circle cx="354.2" cy="130.3" r="1.3" fill="#e86a6a" opacity="0.6"/>
<circle cx="272" cy="160.4" r="1.3" fill="#e86a6a" opacity="0.7"/>
<circle cx="293.1" cy="164.5" r="1.6" fill="#e86a6a" opacity="0.7"/>
<circle cx="487" cy="118.8" r="1.6" fill="#e86a6a" opacity="0.6"/>
<circle cx="454.2" cy="171.6" r="1.3" fill="#e86a6a" opacity="0.8"/>
<circle cx="431.8" cy="162.4" r="1.7" fill="#e86a6a" opacity="0.9"/>
<circle cx="270" cy="158.3" r="1.7" fill="#e86a6a" opacity="0.6"/>
<circle cx="207.7" cy="152.9" r="1.1" fill="#e86a6a" opacity="0.6"/>
<circle cx="248.1" cy="151.1" r="1.3" fill="#e86a6a" opacity="0.9"/>
<circle cx="292.1" cy="142" r="1.1" fill="#e86a6a" opacity="0.7"/>
<circle cx="213" cy="172.6" r="1.2" fill="#e86a6a" opacity="0.8"/>
<circle cx="218.8" cy="155.3" r="1.1" fill="#e86a6a" opacity="0.7"/>
<circle cx="310" cy="163" r="1.4" fill="#e86a6a" opacity="0.8"/>
<circle cx="492.2" cy="167.8" r="1.4" fill="#e86a6a" opacity="0.8"/>
<circle cx="160.5" cy="153.3" r="1.3" fill="#e86a6a" opacity="0.6"/>
<circle cx="209.7" cy="109.5" r="1.2" fill="#e86a6a" opacity="0.7"/>
<circle cx="282.5" cy="167.8" r="1.7" fill="#e86a6a" opacity="0.6"/>
<circle cx="374.8" cy="177.8" r="1.3" fill="#e86a6a" opacity="0.7"/>
<circle cx="321.7" cy="125.5" r="1.7" fill="#e86a6a" opacity="0.6"/>
<circle cx="259.7" cy="161.9" r="1" fill="#e86a6a" opacity="0.7"/>
<circle cx="225.4" cy="165" r="1.4" fill="#e86a6a" opacity="0.6"/>
<circle cx="183.8" cy="179.9" r="1.4" fill="#e86a6a" opacity="0.8"/>
<circle cx="477.5" cy="148.7" r="1.1" fill="#e86a6a" opacity="0.6"/>
<circle cx="387.2" cy="125.1" r="1.4" fill="#e86a6a" opacity="0.6"/>
<circle cx="238.3" cy="176.5" r="1.4" fill="#e86a6a" opacity="0.8"/>
<circle cx="488.5" cy="153.5" r="1.4" fill="#e86a6a" opacity="0.6"/>
<circle cx="227.4" cy="127.2" r="1.1" fill="#e86a6a" opacity="0.7"/>
<circle cx="425.5" cy="122.4" r="1.1" fill="#e86a6a" opacity="0.8"/>
<circle cx="213.7" cy="109" r="1" fill="#e86a6a" opacity="0.8"/>
<circle cx="348.1" cy="134" r="1.6" fill="#e86a6a" opacity="0.6"/>
<circle cx="495.1" cy="158" r="1.2" fill="#e86a6a" opacity="0.6"/>
<circle cx="453.1" cy="150.8" r="1.6" fill="#e86a6a" opacity="0.8"/>
<circle cx="468.7" cy="121.7" r="1.2" fill="#e86a6a" opacity="0.5"/>
<circle cx="412.3" cy="136.2" r="1.3" fill="#e86a6a" opacity="0.5"/>
<circle cx="442.6" cy="159.9" r="1.1" fill="#e86a6a" opacity="0.7"/>
<circle cx="180.6" cy="160.9" r="1.2" fill="#e86a6a" opacity="0.7"/>
<circle cx="504.6" cy="188.3" r="1.5" fill="#e86a6a" opacity="0.6"/>
<circle cx="456.1" cy="156.5" r="1.4" fill="#e86a6a" opacity="0.7"/>
<circle cx="209.6" cy="138" r="1.1" fill="#e86a6a" opacity="0.6"/>
<circle cx="223.8" cy="157.1" r="1.3" fill="#e86a6a" opacity="0.7"/>
<circle cx="424.9" cy="158.3" r="1.6" fill="#e86a6a" opacity="0.7"/>
<circle cx="205.1" cy="157.2" r="1.2" fill="#e86a6a" opacity="0.8"/>
<circle cx="301.6" cy="121" r="1" fill="#e86a6a" opacity="0.8"/>
<circle cx="397" cy="175.5" r="1.4" fill="#e86a6a" opacity="0.7"/>
<circle cx="126.4" cy="157.1" r="1.3" fill="#e86a6a" opacity="0.7"/>
<circle cx="456.6" cy="151" r="1.5" fill="#e86a6a" opacity="0.8"/>
<circle cx="343.8" cy="166" r="1.3" fill="#e86a6a" opacity="0.7"/>
<circle cx="245.2" cy="150.7" r="1.1" fill="#e86a6a" opacity="0.8"/>
<circle cx="256.9" cy="168.2" r="1" fill="#e86a6a" opacity="0.5"/>
<circle cx="188.7" cy="134.8" r="1.2" fill="#e86a6a" opacity="0.6"/>
<circle cx="386.9" cy="154.6" r="1.3" fill="#e86a6a" opacity="0.9"/>
<circle cx="298.2" cy="168.5" r="1" fill="#e86a6a" opacity="0.9"/>
<circle cx="512" cy="183" r="1.4" fill="#e86a6a" opacity="0.9"/>
<circle cx="368.1" cy="160" r="1.4" fill="#e86a6a" opacity="0.8"/>
<circle cx="126.2" cy="158.6" r="1" fill="#e86a6a" opacity="0.6"/>
<circle cx="127.7" cy="156.8" r="1.1" fill="#e86a6a" opacity="0.6"/>
<circle cx="180.2" cy="189.6" r="1.6" fill="#e86a6a" opacity="0.9"/>
<circle cx="146.3" cy="167" r="1.4" fill="#e86a6a" opacity="0.9"/>
<circle cx="292.6" cy="118.8" r="1.6" fill="#e86a6a" opacity="0.7"/>
<circle cx="224.3" cy="149.6" r="1.5" fill="#e86a6a" opacity="0.8"/>
<circle cx="229.7" cy="128.4" r="1.2" fill="#e86a6a" opacity="0.7"/>
<circle cx="337.2" cy="159" r="1.3" fill="#e86a6a" opacity="0.9"/>
<circle cx="236.5" cy="122.7" r="1" fill="#e86a6a" opacity="0.6"/>
<circle cx="189.2" cy="156.1" r="1.4" fill="#e86a6a" opacity="0.9"/>
<circle cx="274.6" cy="160.5" r="1.7" fill="#e86a6a" opacity="0.6"/>
<circle cx="245.4" cy="147.6" r="1.2" fill="#e86a6a" opacity="0.9"/>
<circle cx="200.4" cy="155.1" r="1.4" fill="#e86a6a" opacity="0.7"/>
<circle cx="254.7" cy="153.2" r="1.5" fill="#e86a6a" opacity="0.7"/>
<circle cx="454.8" cy="135.5" r="1.4" fill="#e86a6a" opacity="0.9"/>
<circle cx="390.4" cy="173.5" r="1.7" fill="#e86a6a" opacity="0.7"/>
<circle cx="386.5" cy="158.8" r="1.4" fill="#e86a6a" opacity="0.6"/>
<circle cx="456.7" cy="160.3" r="1.1" fill="#e86a6a" opacity="0.8"/>
<circle cx="490.9" cy="164.7" r="1.4" fill="#e86a6a" opacity="0.8"/>
<circle cx="401" cy="151.7" r="1.3" fill="#e86a6a" opacity="0.5"/>
<circle cx="280.4" cy="144.4" r="1.3" fill="#e86a6a" opacity="0.9"/>
<circle cx="173.1" cy="149.5" r="1.6" fill="#e86a6a" opacity="0.6"/>
<circle cx="367.2" cy="176" r="1.5" fill="#e86a6a" opacity="0.6"/>
<circle cx="256.6" cy="172.1" r="1.2" fill="#e86a6a" opacity="0.7"/>
<circle cx="356.5" cy="150.9" r="1.5" fill="#e86a6a" opacity="0.9"/>
<circle cx="268.1" cy="150.5" r="1.2" fill="#e86a6a" opacity="0.7"/>
<circle cx="441.9" cy="137.7" r="1.2" fill="#e86a6a" opacity="0.8"/>
<circle cx="247.3" cy="158.1" r="1.7" fill="#e86a6a" opacity="0.7"/>
<circle cx="211.4" cy="132.4" r="1.6" fill="#e86a6a" opacity="0.9"/>
<circle cx="122" cy="190" r="1.2" fill="#e86a6a" opacity="0.9"/>
<circle cx="234.9" cy="138.5" r="1.4" fill="#e86a6a" opacity="0.7"/>
<circle cx="451.3" cy="148.9" r="1.5" fill="#e86a6a" opacity="0.7"/>
<circle cx="302.5" cy="175.2" r="1.3" fill="#e86a6a" opacity="0.5"/>
<circle cx="139.6" cy="158.1" r="1.2" fill="#e86a6a" opacity="0.7"/>
<circle cx="317.6" cy="130.1" r="1.1" fill="#e86a6a" opacity="0.6"/>
<circle cx="284.8" cy="122.5" r="1.3" fill="#e86a6a" opacity="0.8"/>
<circle cx="481.5" cy="131.1" r="1.5" fill="#e86a6a" opacity="0.5"/>
<circle cx="260.8" cy="139.2" r="1.3" fill="#e86a6a" opacity="0.5"/>
<circle cx="239.3" cy="162.5" r="1.2" fill="#e86a6a" opacity="0.6"/>
<circle cx="496.4" cy="172.9" r="1.4" fill="#e86a6a" opacity="0.9"/>
<circle cx="371.2" cy="122.9" r="1.1" fill="#e86a6a" opacity="0.9"/>
<circle cx="281.1" cy="147.6" r="1" fill="#e86a6a" opacity="0.7"/>
<circle cx="155.4" cy="131.5" r="1.5" fill="#e86a6a" opacity="0.8"/>
<circle cx="115.9" cy="142.4" r="1" fill="#e86a6a" opacity="0.8"/>
<circle cx="339" cy="166" r="1.1" fill="#e86a6a" opacity="0.5"/>
<circle cx="123.7" cy="144" r="1.1" fill="#e86a6a" opacity="0.8"/>
<circle cx="344.8" cy="175.5" r="1.4" fill="#e86a6a" opacity="0.6"/>
<circle cx="193.2" cy="127.4" r="1.4" fill="#e86a6a" opacity="0.6"/>
<circle cx="324.8" cy="148.1" r="1.1" fill="#e86a6a" opacity="0.9"/>
<circle cx="313.3" cy="151.8" r="1.3" fill="#e86a6a" opacity="0.7"/>
<circle cx="440.8" cy="137.7" r="1.4" fill="#e86a6a" opacity="0.6"/>
<circle cx="209.5" cy="132.3" r="1.2" fill="#e86a6a" opacity="0.5"/>
<circle cx="370.2" cy="176.6" r="1" fill="#e86a6a" opacity="0.6"/>
<circle cx="368.3" cy="121.9" r="1" fill="#e86a6a" opacity="0.6"/>
<circle cx="274.5" cy="152.4" r="1" fill="#e86a6a" opacity="0.6"/>
<circle cx="203.2" cy="147.2" r="1.1" fill="#e86a6a" opacity="0.7"/>
<circle cx="182.9" cy="184.1" r="1.3" fill="#e86a6a" opacity="0.7"/>
<circle cx="215.2" cy="153.2" r="1.6" fill="#e86a6a" opacity="0.9"/>
<circle cx="139.3" cy="141.4" r="1.4" fill="#e86a6a" opacity="0.7"/>
<circle cx="275.5" cy="130.5" r="1.5" fill="#e86a6a" opacity="0.5"/>
<circle cx="468.8" cy="160.3" r="1.3" fill="#e86a6a" opacity="0.5"/>
<circle cx="474.6" cy="157.1" r="1.3" fill="#e86a6a" opacity="0.6"/>
<circle cx="249.4" cy="162" r="1.5" fill="#e86a6a" opacity="0.9"/>
<circle cx="285.3" cy="141.5" r="1.6" fill="#e86a6a" opacity="0.7"/>
<circle cx="270.9" cy="137.6" r="1.3" fill="#e86a6a" opacity="0.6"/>
<circle cx="121.9" cy="155" r="1.6" fill="#e86a6a" opacity="0.6"/>
<circle cx="164.9" cy="158.6" r="1.6" fill="#e86a6a" opacity="0.7"/>
<circle cx="303.7" cy="170.9" r="1.6" fill="#e86a6a" opacity="0.6"/>
<circle cx="262.9" cy="155.4" r="1.4" fill="#e86a6a" opacity="0.7"/>
<circle cx="233.8" cy="167.9" r="1.3" fill="#e86a6a" opacity="0.6"/>
<circle cx="464.7" cy="134.7" r="1.7" fill="#e86a6a" opacity="0.7"/>
<circle cx="292.7" cy="117.9" r="1.7" fill="#e86a6a" opacity="0.7"/>
<circle cx="277.8" cy="143.7" r="1.5" fill="#e86a6a" opacity="0.8"/>
<circle cx="149.1" cy="151.5" r="1.6" fill="#e86a6a" opacity="0.8"/>
<circle cx="426.2" cy="177.1" r="1.1" fill="#e86a6a" opacity="0.5"/>
<circle cx="404" cy="156.6" r="1.5" fill="#e86a6a" opacity="0.8"/>
<circle cx="206.8" cy="164.7" r="1" fill="#e86a6a" opacity="0.9"/>
<circle cx="442.8" cy="183.2" r="1.5" fill="#e86a6a" opacity="0.6"/>
<circle cx="407.3" cy="163.2" r="1.6" fill="#e86a6a" opacity="0.7"/>
<circle cx="258" cy="158.9" r="1.6" fill="#e86a6a" opacity="0.7"/>
<circle cx="369.9" cy="130" r="1.7" fill="#e86a6a" opacity="0.6"/>
<circle cx="262.3" cy="128.9" r="1.6" fill="#e86a6a" opacity="0.8"/>
<circle cx="480.6" cy="176.6" r="1.3" fill="#e86a6a" opacity="0.9"/>
<circle cx="276.3" cy="155.9" r="1.6" fill="#e86a6a" opacity="0.5"/>
<circle cx="231.4" cy="149.1" r="1.2" fill="#e86a6a" opacity="0.8"/>
<circle cx="278" cy="173.7" r="1.4" fill="#e86a6a" opacity="0.7"/>
<circle cx="423" cy="166.6" r="1.4" fill="#e86a6a" opacity="0.8"/>
<circle cx="499" cy="173.8" r="1.4" fill="#e86a6a" opacity="0.6"/>
<circle cx="316.4" cy="115.8" r="1.5" fill="#e86a6a" opacity="0.7"/>
<circle cx="496.5" cy="147.3" r="1.1" fill="#e86a6a" opacity="0.8"/>
<circle cx="381.2" cy="178.5" r="1.4" fill="#e86a6a" opacity="0.8"/>
<circle cx="512.4" cy="133" r="1.5" fill="#e86a6a" opacity="0.5"/>
<circle cx="242.6" cy="154.5" r="1.6" fill="#e86a6a" opacity="0.7"/>
<circle cx="417.6" cy="137.5" r="1.7" fill="#e86a6a" opacity="0.7"/>
<circle cx="202.4" cy="137.4" r="1.7" fill="#e86a6a" opacity="0.7"/>
<circle cx="251.5" cy="149.5" r="1.4" fill="#e86a6a" opacity="0.8"/>
<circle cx="456.7" cy="138.6" r="1.5" fill="#e86a6a" opacity="0.6"/>
<circle cx="388.5" cy="138.4" r="1.6" fill="#e86a6a" opacity="0.8"/>
<circle cx="312.9" cy="166.7" r="1.6" fill="#e86a6a" opacity="0.7"/>
<circle cx="183.3" cy="188.6" r="1.1" fill="#e86a6a" opacity="0.8"/>
<circle cx="208.6" cy="149.3" r="1.1" fill="#e86a6a" opacity="0.6"/>
<circle cx="149.6" cy="193.1" r="1.4" fill="#e86a6a" opacity="0.6"/>
<circle cx="393.9" cy="133.7" r="1.5" fill="#e86a6a" opacity="0.5"/>
<circle cx="396.1" cy="153.6" r="1.1" fill="#e86a6a" opacity="0.8"/>
<circle cx="398.7" cy="168.8" r="1.4" fill="#e86a6a" opacity="0.6"/>
<circle cx="370.5" cy="170.7" r="1.1" fill="#e86a6a" opacity="0.7"/>
<circle cx="498.8" cy="147.9" r="1.7" fill="#e86a6a" opacity="0.8"/>
<circle cx="278.6" cy="143.7" r="1.1" fill="#e86a6a" opacity="0.8"/>
<circle cx="116.6" cy="147.3" r="1.6" fill="#e86a6a" opacity="0.6"/>
<circle cx="157" cy="152.4" r="1.2" fill="#e86a6a" opacity="0.9"/>
<circle cx="177.9" cy="132.5" r="1.2" fill="#e86a6a" opacity="0.7"/>
<circle cx="130.3" cy="159" r="1.3" fill="#e86a6a" opacity="0.9"/>
<circle cx="311.3" cy="151.8" r="1.5" fill="#e86a6a" opacity="0.6"/>
<circle cx="377" cy="137.6" r="1.7" fill="#e86a6a" opacity="0.7"/>
<circle cx="434.1" cy="145.4" r="1.1" fill="#e86a6a" opacity="0.6"/>
<circle cx="363.9" cy="165.6" r="1.5" fill="#e86a6a" opacity="0.8"/>
<circle cx="380.2" cy="175.4" r="1" fill="#e86a6a" opacity="0.7"/>
<circle cx="171.2" cy="164.5" r="1.3" fill="#e86a6a" opacity="0.9"/>
<circle cx="327.7" cy="171.2" r="1.1" fill="#e86a6a" opacity="0.8"/>
<circle cx="239.2" cy="137.2" r="1.4" fill="#e86a6a" opacity="0.7"/>
<circle cx="377.9" cy="144.8" r="1.1" fill="#e86a6a" opacity="0.9"/>
<circle cx="456.3" cy="161.1" r="1.2" fill="#e86a6a" opacity="0.5"/>
<circle cx="155.6" cy="163.7" r="1.7" fill="#e86a6a" opacity="0.7"/>
<circle cx="132.3" cy="117.9" r="1.2" fill="#e86a6a" opacity="0.7"/>
<circle cx="412.2" cy="173.7" r="1.4" fill="#e86a6a" opacity="0.6"/>
<circle cx="205.1" cy="151.4" r="1.1" fill="#e86a6a" opacity="0.8"/>
<circle cx="276.7" cy="182.9" r="1.3" fill="#e86a6a" opacity="0.6"/>
<circle cx="264.8" cy="147.9" r="1" fill="#e86a6a" opacity="0.7"/>
<circle cx="454.5" cy="143.1" r="1.1" fill="#e86a6a" opacity="0.5"/>
<circle cx="404" cy="151.4" r="1.6" fill="#e86a6a" opacity="0.5"/>
<circle cx="115.1" cy="161.6" r="1.5" fill="#e86a6a" opacity="0.7"/>
<circle cx="113.2" cy="149.3" r="1.6" fill="#e86a6a" opacity="0.8"/>
<circle cx="345" cy="132.4" r="1.4" fill="#e86a6a" opacity="0.7"/>
<circle cx="331.5" cy="155.9" r="1.4" fill="#e86a6a" opacity="0.6"/>
<circle cx="276.7" cy="146.9" r="1.6" fill="#e86a6a" opacity="0.8"/>
<circle cx="247.9" cy="147.8" r="1.5" fill="#e86a6a" opacity="0.7"/>
<circle cx="284.8" cy="136.1" r="1.1" fill="#e86a6a" opacity="0.8"/>
<circle cx="329.8" cy="169.2" r="1.4" fill="#e86a6a" opacity="0.8"/>
<circle cx="203.1" cy="150.4" r="1.1" fill="#e86a6a" opacity="0.7"/>
<circle cx="339.8" cy="127.5" r="1.7" fill="#e86a6a" opacity="0.6"/>
<circle cx="210.4" cy="140.4" r="1.2" fill="#e86a6a" opacity="0.9"/>
<circle cx="195" cy="156.5" r="1.5" fill="#e86a6a" opacity="0.6"/>
<circle cx="456.1" cy="145.9" r="1.5" fill="#e86a6a" opacity="0.8"/>
<circle cx="204.9" cy="143.7" r="1.3" fill="#e86a6a" opacity="0.7"/>
<circle cx="397.8" cy="349.6" r="1.7" fill="#7a7cf0" opacity="0.9"/>
<circle cx="390.8" cy="325.8" r="1.9" fill="#7a7cf0" opacity="0.6"/>
<circle cx="318.5" cy="329.1" r="2" fill="#7a7cf0" opacity="0.8"/>
<circle cx="505.8" cy="351" r="1.7" fill="#7a7cf0" opacity="0.8"/>
<circle cx="393.4" cy="321.7" r="1.4" fill="#7a7cf0" opacity="0.8"/>
<circle cx="150.6" cy="343.4" r="1.6" fill="#7a7cf0" opacity="0.8"/>
<circle cx="278.1" cy="355.4" r="1.8" fill="#7a7cf0" opacity="0.9"/>
<circle cx="300.7" cy="353" r="1.4" fill="#7a7cf0" opacity="0.6"/>
<circle cx="484.5" cy="382.6" r="1.4" fill="#7a7cf0" opacity="0.6"/>
<circle cx="410.7" cy="370.8" r="1.5" fill="#7a7cf0" opacity="0.7"/>
<circle cx="457.1" cy="358.5" r="1.3" fill="#7a7cf0" opacity="0.7"/>
<circle cx="210.5" cy="333.5" r="1.7" fill="#7a7cf0" opacity="0.8"/>
<circle cx="258.7" cy="330" r="1.5" fill="#7a7cf0" opacity="0.7"/>
<circle cx="246.6" cy="353.5" r="1.7" fill="#7a7cf0" opacity="0.6"/>
<circle cx="485.2" cy="352.5" r="1.8" fill="#7a7cf0" opacity="0.6"/>
<circle cx="517.4" cy="363.2" r="1.6" fill="#7a7cf0" opacity="0.9"/>
<circle cx="312.4" cy="360.3" r="1.4" fill="#7a7cf0" opacity="0.9"/>
<circle cx="470.3" cy="356.1" r="1.8" fill="#7a7cf0" opacity="0.9"/>
<circle cx="353.4" cy="351.9" r="1.8" fill="#7a7cf0" opacity="0.7"/>
<circle cx="294.4" cy="393.2" r="1.3" fill="#7a7cf0" opacity="0.9"/>
<circle cx="312" cy="349" r="1.9" fill="#7a7cf0" opacity="0.6"/>
<circle cx="366.6" cy="352.3" r="1.8" fill="#7a7cf0" opacity="0.8"/>
<circle cx="457.7" cy="370.1" r="1.6" fill="#7a7cf0" opacity="0.7"/>
<circle cx="504.8" cy="348.3" r="1.7" fill="#7a7cf0" opacity="0.7"/>
<circle cx="328.8" cy="349.6" r="1.7" fill="#7a7cf0" opacity="0.7"/>
<circle cx="448" cy="357.9" r="1.8" fill="#7a7cf0" opacity="0.7"/>
<circle cx="304.3" cy="361.6" r="1.5" fill="#7a7cf0" opacity="0.8"/>
<circle cx="205.3" cy="348" r="1.5" fill="#7a7cf0" opacity="0.9"/>
<circle cx="361.7" cy="338.8" r="1.4" fill="#7a7cf0" opacity="0.7"/>
<circle cx="138.5" cy="337.8" r="2" fill="#7a7cf0" opacity="0.7"/>
<circle cx="347.4" cy="346.3" r="1.8" fill="#7a7cf0" opacity="0.9"/>
<circle cx="482.1" cy="348.7" r="1.4" fill="#7a7cf0" opacity="0.7"/>
<circle cx="287.1" cy="347.1" r="1.9" fill="#7a7cf0" opacity="0.9"/>
<circle cx="210" cy="349.6" r="1.9" fill="#7a7cf0" opacity="0.6"/>
<path d="M142 354l1.5 3.2" stroke="#c9b56a" stroke-width="1.4" opacity="0.8"/>
<path d="M461.9 344.1l2.5 2.4" stroke="#c9b56a" stroke-width="1.4" opacity="0.8"/>
<path d="M469.9 344.3l-2.1 2.8" stroke="#c9b56a" stroke-width="1.4" opacity="0.8"/>
<path d="M387.6 338.1l-3.3 1.3" stroke="#c9b56a" stroke-width="1.4" opacity="0.8"/>
<path d="M433 326.9l-2.9 2" stroke="#c9b56a" stroke-width="1.4" opacity="0.8"/>
<path d="M520.6 345.6l3.1 1.6" stroke="#c9b56a" stroke-width="1.4" opacity="0.8"/>
<path d="M196.6 356.3l1 3.3" stroke="#c9b56a" stroke-width="1.4" opacity="0.8"/>
<path d="M274.7 337.4l-2.6 2.3" stroke="#c9b56a" stroke-width="1.4" opacity="0.8"/>
<path d="M493.1 341.7l-2.2 2.7" stroke="#c9b56a" stroke-width="1.4" opacity="0.8"/>
<path d="M215.7 343.4l-0.8 3.4" stroke="#c9b56a" stroke-width="1.4" opacity="0.8"/>
<path d="M382.3 349.4l2.9 2" stroke="#c9b56a" stroke-width="1.4" opacity="0.8"/>
<path d="M491.2 345.3l-0.9 3.4" stroke="#c9b56a" stroke-width="1.4" opacity="0.8"/>
<path d="M237.1 339.9l-3.5 0.3" stroke="#c9b56a" stroke-width="1.4" opacity="0.8"/>
<path d="M395.2 354l-2.2 2.7" stroke="#c9b56a" stroke-width="1.4" opacity="0.8"/>
<path d="M490 350.2l3 1.8" stroke="#c9b56a" stroke-width="1.4" opacity="0.8"/>
<path d="M480.1 339.3l-0.5 3.5" stroke="#c9b56a" stroke-width="1.4" opacity="0.8"/>
<path d="M423.1 341.4l3.5 0.2" stroke="#c9b56a" stroke-width="1.4" opacity="0.8"/>
<path d="M132 341.3l0.6 3.5" stroke="#c9b56a" stroke-width="1.4" opacity="0.8"/>
<path d="M478.1 343.8l3.3 1.1" stroke="#c9b56a" stroke-width="1.4" opacity="0.8"/>
<path d="M211.5 356.4l3.4 0.6" stroke="#c9b56a" stroke-width="1.4" opacity="0.8"/>
<path d="M165.3 349.4l-2.9 1.9" stroke="#c9b56a" stroke-width="1.4" opacity="0.8"/>
<path d="M348.2 347.1l-2.2 2.7" stroke="#c9b56a" stroke-width="1.4" opacity="0.8"/>
<circle cx="113.6" cy="343" r="1" fill="#e86a6a" opacity="0.6"/>
<circle cx="122.8" cy="368.8" r="1.2" fill="#e86a6a" opacity="0.8"/>
<circle cx="122.6" cy="324.1" r="1.6" fill="#e86a6a" opacity="0.6"/>
<circle cx="466.7" cy="347.9" r="1.6" fill="#e86a6a" opacity="0.5"/>
<circle cx="363.7" cy="353.7" r="1.3" fill="#e86a6a" opacity="0.9"/>
<circle cx="470.9" cy="299.1" r="1" fill="#e86a6a" opacity="0.6"/>
<circle cx="380.7" cy="339.6" r="1.5" fill="#e86a6a" opacity="0.8"/>
<circle cx="176" cy="361.3" r="1" fill="#e86a6a" opacity="0.6"/>
<circle cx="329.4" cy="354.1" r="1.3" fill="#e86a6a" opacity="0.6"/>
<circle cx="391.4" cy="333.3" r="1.6" fill="#e86a6a" opacity="0.6"/>
<circle cx="515.3" cy="335.7" r="1.4" fill="#e86a6a" opacity="0.8"/>
<circle cx="308" cy="340.7" r="1" fill="#e86a6a" opacity="0.8"/>
<circle cx="379.7" cy="322.2" r="1.4" fill="#e86a6a" opacity="0.6"/>
<circle cx="329.4" cy="338.3" r="1.2" fill="#e86a6a" opacity="0.6"/>
<circle cx="341.2" cy="369.6" r="1.7" fill="#e86a6a" opacity="0.6"/>
<circle cx="370.3" cy="363.1" r="1.3" fill="#e86a6a" opacity="0.9"/>
<circle cx="497.1" cy="340.2" r="1.4" fill="#e86a6a" opacity="0.6"/>
<circle cx="431.4" cy="340.2" r="1.2" fill="#e86a6a" opacity="0.7"/>
<circle cx="415" cy="372.5" r="1.6" fill="#e86a6a" opacity="0.8"/>
<circle cx="329" cy="327.4" r="1.2" fill="#e86a6a" opacity="0.8"/>
<circle cx="293.2" cy="353.1" r="1.6" fill="#e86a6a" opacity="0.9"/>
<circle cx="271.6" cy="337.5" r="1.1" fill="#e86a6a" opacity="0.8"/>
<circle cx="122.4" cy="344.5" r="1.6" fill="#e86a6a" opacity="0.9"/>
<circle cx="388.9" cy="343.6" r="1.2" fill="#e86a6a" opacity="0.6"/>
<circle cx="266.2" cy="359" r="1.5" fill="#e86a6a" opacity="0.8"/>
<circle cx="124.1" cy="337.4" r="1" fill="#e86a6a" opacity="0.8"/>
<circle cx="211" cy="337.3" r="1.3" fill="#e86a6a" opacity="0.6"/>
<circle cx="473.4" cy="357.3" r="1.3" fill="#e86a6a" opacity="0.9"/>
<circle cx="436.9" cy="309.1" r="1.5" fill="#e86a6a" opacity="0.9"/>
<circle cx="167.7" cy="351.3" r="1.2" fill="#e86a6a" opacity="0.5"/>
<circle cx="113.1" cy="354.4" r="1.2" fill="#e86a6a" opacity="0.7"/>
<circle cx="505.2" cy="337.3" r="1.1" fill="#e86a6a" opacity="0.5"/>
<circle cx="433.4" cy="361.5" r="1" fill="#e86a6a" opacity="0.8"/>
<circle cx="292.2" cy="325" r="1.3" fill="#e86a6a" opacity="0.6"/>
<circle cx="496.7" cy="334.5" r="1.1" fill="#e86a6a" opacity="0.9"/>
<circle cx="166.4" cy="319.4" r="1.2" fill="#e86a6a" opacity="0.7"/>
<circle cx="256.2" cy="346.1" r="1.3" fill="#e86a6a" opacity="0.7"/>
<circle cx="375.7" cy="328.1" r="1.5" fill="#e86a6a" opacity="0.7"/>
<circle cx="249.6" cy="362.8" r="1.1" fill="#e86a6a" opacity="0.8"/>
<circle cx="117.8" cy="333" r="1.1" fill="#e86a6a" opacity="0.7"/>
<circle cx="348.1" cy="337.8" r="1" fill="#e86a6a" opacity="0.9"/>
<circle cx="138.1" cy="321.5" r="1.1" fill="#e86a6a" opacity="0.9"/>
<circle cx="510.9" cy="344.9" r="1.2" fill="#e86a6a" opacity="0.7"/>
<circle cx="372.1" cy="345.8" r="1.4" fill="#e86a6a" opacity="0.9"/>
<circle cx="329.6" cy="367.4" r="1.1" fill="#e86a6a" opacity="0.9"/>
<circle cx="462.6" cy="312" r="1.7" fill="#e86a6a" opacity="0.6"/>
<circle cx="141.3" cy="345.2" r="1.2" fill="#e86a6a" opacity="0.9"/>
<circle cx="192.3" cy="343.3" r="1" fill="#e86a6a" opacity="0.8"/>
<circle cx="503.2" cy="344.5" r="1" fill="#e86a6a" opacity="0.7"/>
<circle cx="227.6" cy="360.1" r="1.2" fill="#e86a6a" opacity="0.7"/>
<circle cx="520.3" cy="345.6" r="1.3" fill="#e86a6a" opacity="0.7"/>
<circle cx="269.1" cy="333.4" r="1.1" fill="#e86a6a" opacity="0.8"/>
<circle cx="474.3" cy="357.3" r="1.4" fill="#e86a6a" opacity="0.6"/>
<circle cx="317.7" cy="313.7" r="1.7" fill="#e86a6a" opacity="0.8"/>
<circle cx="411.9" cy="375.9" r="1.5" fill="#e86a6a" opacity="0.5"/>
<circle cx="367" cy="344.3" r="1" fill="#e86a6a" opacity="0.8"/>
<circle cx="278.5" cy="323.3" r="1.3" fill="#e86a6a" opacity="0.8"/>
<circle cx="298.9" cy="337.3" r="1.4" fill="#e86a6a" opacity="0.7"/>
<circle cx="377.9" cy="331.6" r="1.4" fill="#e86a6a" opacity="0.7"/>
<circle cx="451" cy="348.7" r="1.6" fill="#e86a6a" opacity="0.8"/>
<circle cx="257.7" cy="386.2" r="1.2" fill="#e86a6a" opacity="0.8"/>
<circle cx="451.5" cy="363.1" r="1.1" fill="#e86a6a" opacity="0.8"/>
<circle cx="384.8" cy="370.2" r="1.2" fill="#e86a6a" opacity="0.8"/>
<circle cx="464.4" cy="333.5" r="1.2" fill="#e86a6a" opacity="0.7"/>
<circle cx="346.3" cy="351.9" r="1.5" fill="#e86a6a" opacity="0.6"/>
<circle cx="195.8" cy="346" r="1.1" fill="#e86a6a" opacity="0.6"/>
<circle cx="388.7" cy="359.6" r="1.1" fill="#e86a6a" opacity="0.9"/>
<circle cx="463.7" cy="365.3" r="1.5" fill="#e86a6a" opacity="0.9"/>
<circle cx="244" cy="325.4" r="1.3" fill="#e86a6a" opacity="0.7"/>
<circle cx="400.6" cy="370.4" r="1.3" fill="#e86a6a" opacity="0.6"/>
<circle cx="384.3" cy="332.6" r="1.5" fill="#e86a6a" opacity="0.6"/>
<circle cx="231" cy="344.1" r="1.3" fill="#e86a6a" opacity="0.5"/>
<circle cx="372.7" cy="344.8" r="1.4" fill="#e86a6a" opacity="0.5"/>
<circle cx="165.2" cy="336.2" r="1.3" fill="#e86a6a" opacity="0.8"/>
<circle cx="367.8" cy="317.5" r="1.2" fill="#e86a6a" opacity="0.7"/>
<circle cx="111.8" cy="341.8" r="1.2" fill="#e86a6a" opacity="0.7"/>
<circle cx="237.6" cy="311.7" r="1.2" fill="#e86a6a" opacity="0.6"/>
<circle cx="291.8" cy="336.1" r="1.4" fill="#e86a6a" opacity="0.7"/>
<circle cx="148.1" cy="373.9" r="1.2" fill="#e86a6a" opacity="0.8"/>
<circle cx="490.3" cy="375.1" r="1.5" fill="#e86a6a" opacity="0.7"/>
<circle cx="128.7" cy="346.8" r="1.3" fill="#e86a6a" opacity="0.7"/>
<circle cx="217.2" cy="303.7" r="1.2" fill="#e86a6a" opacity="0.8"/>
<circle cx="164.8" cy="313.6" r="1.6" fill="#e86a6a" opacity="0.7"/>
<circle cx="137.6" cy="316.1" r="1.1" fill="#e86a6a" opacity="0.8"/>
<circle cx="144.4" cy="330.9" r="1.3" fill="#e86a6a" opacity="0.9"/>
<circle cx="376.1" cy="351.4" r="1.6" fill="#e86a6a" opacity="0.5"/>
<circle cx="343.4" cy="368.8" r="1.3" fill="#e86a6a" opacity="0.9"/>
<circle cx="184" cy="336.1" r="1" fill="#e86a6a" opacity="0.7"/>
<circle cx="167.2" cy="346" r="1.2" fill="#e86a6a" opacity="0.6"/>
<circle cx="334.4" cy="343.8" r="1.6" fill="#e86a6a" opacity="0.6"/>
<circle cx="247.4" cy="332.5" r="1.1" fill="#e86a6a" opacity="0.8"/>
<circle cx="346.5" cy="357.5" r="1" fill="#e86a6a" opacity="0.7"/>
<circle cx="460.5" cy="349.8" r="1.6" fill="#e86a6a" opacity="0.6"/>
<circle cx="249.6" cy="363.2" r="1.6" fill="#e86a6a" opacity="0.7"/>
<circle cx="419.3" cy="350.9" r="1.3" fill="#e86a6a" opacity="0.5"/>
<circle cx="369.3" cy="338.7" r="1.2" fill="#e86a6a" opacity="0.6"/>
<circle cx="515.7" cy="353.8" r="1.4" fill="#e86a6a" opacity="0.5"/>
<circle cx="269.4" cy="364.3" r="1.5" fill="#e86a6a" opacity="0.6"/>
<circle cx="274" cy="364.2" r="1.2" fill="#e86a6a" opacity="0.6"/>
<circle cx="268" cy="330.1" r="1.3" fill="#e86a6a" opacity="0.7"/>
<circle cx="237" cy="353.4" r="1.5" fill="#e86a6a" opacity="0.9"/>
<circle cx="381.6" cy="354" r="1.5" fill="#e86a6a" opacity="0.6"/>
<circle cx="494.4" cy="336.4" r="1.5" fill="#e86a6a" opacity="0.8"/>
<circle cx="411.6" cy="360.8" r="1" fill="#e86a6a" opacity="0.5"/>
<circle cx="503" cy="347.9" r="1.2" fill="#e86a6a" opacity="0.7"/>
<circle cx="194" cy="342.2" r="1.1" fill="#e86a6a" opacity="0.9"/>
<circle cx="362.8" cy="324.6" r="1.1" fill="#e86a6a" opacity="0.6"/>
<circle cx="185.6" cy="360.4" r="1.6" fill="#e86a6a" opacity="0.5"/>
<circle cx="167.9" cy="367.4" r="1.3" fill="#e86a6a" opacity="0.5"/>
<circle cx="408.3" cy="325.9" r="1.5" fill="#e86a6a" opacity="0.6"/>
<circle cx="202.4" cy="341.1" r="1.6" fill="#e86a6a" opacity="0.7"/>
<circle cx="176.9" cy="319.9" r="1.5" fill="#e86a6a" opacity="0.8"/>
<circle cx="323.9" cy="335.5" r="1.1" fill="#e86a6a" opacity="0.5"/>
<circle cx="203.6" cy="348.3" r="1.6" fill="#e86a6a" opacity="0.8"/>
<circle cx="293.6" cy="317.3" r="1.6" fill="#e86a6a" opacity="0.6"/>
<circle cx="177.4" cy="360.7" r="1.3" fill="#e86a6a" opacity="0.8"/>
<circle cx="471.4" cy="353.3" r="1.5" fill="#e86a6a" opacity="0.6"/>
<circle cx="217.7" cy="322" r="1.4" fill="#e86a6a" opacity="0.6"/>
<circle cx="500.6" cy="340.1" r="1.7" fill="#e86a6a" opacity="0.6"/>
<circle cx="175.7" cy="336" r="1.2" fill="#e86a6a" opacity="0.8"/>
<circle cx="397.2" cy="348.9" r="1.1" fill="#e86a6a" opacity="0.6"/>
<circle cx="276.7" cy="354.6" r="1" fill="#e86a6a" opacity="0.6"/>
<circle cx="382.1" cy="351.7" r="1.4" fill="#e86a6a" opacity="0.5"/>
<circle cx="313.1" cy="368.7" r="1" fill="#e86a6a" opacity="0.8"/>
<circle cx="477.5" cy="355.1" r="1.2" fill="#e86a6a" opacity="0.6"/>
<circle cx="351.8" cy="340.4" r="1.5" fill="#e86a6a" opacity="0.6"/>
<circle cx="305.1" cy="349" r="1.6" fill="#e86a6a" opacity="0.7"/>
<circle cx="234.9" cy="318.9" r="1.4" fill="#e86a6a" opacity="0.5"/>
<circle cx="112" cy="349.1" r="1.2" fill="#e86a6a" opacity="0.6"/>
<circle cx="255.6" cy="354.6" r="1.3" fill="#e86a6a" opacity="0.6"/>
<circle cx="261.3" cy="369.3" r="1.6" fill="#e86a6a" opacity="0.8"/>
<circle cx="298.7" cy="365.2" r="1.5" fill="#e86a6a" opacity="0.5"/>
<circle cx="177.9" cy="342.6" r="1" fill="#e86a6a" opacity="0.7"/>
<circle cx="281.5" cy="348.7" r="1.5" fill="#e86a6a" opacity="0.7"/>
<circle cx="456" cy="368.9" r="1.5" fill="#e86a6a" opacity="0.6"/>
<circle cx="384.2" cy="357.9" r="1.1" fill="#e86a6a" opacity="0.5"/>
<circle cx="376.8" cy="353.1" r="1.2" fill="#e86a6a" opacity="0.5"/>
<circle cx="209.7" cy="334.4" r="1.1" fill="#e86a6a" opacity="0.6"/>
<circle cx="334.1" cy="340.6" r="1.4" fill="#e86a6a" opacity="0.5"/>
<circle cx="216.9" cy="356.7" r="1.7" fill="#e86a6a" opacity="0.6"/>
<circle cx="340" cy="380.9" r="1.5" fill="#e86a6a" opacity="0.7"/>
<circle cx="210.1" cy="343.4" r="1.1" fill="#e86a6a" opacity="0.5"/>
<circle cx="133.6" cy="352.4" r="1.1" fill="#e86a6a" opacity="0.8"/>
<circle cx="147.3" cy="322" r="1.1" fill="#e86a6a" opacity="0.8"/>
<circle cx="522.2" cy="326.1" r="1.1" fill="#e86a6a" opacity="0.7"/>
<circle cx="161.2" cy="356.3" r="1.5" fill="#e86a6a" opacity="0.6"/>
<circle cx="211.7" cy="349" r="1.6" fill="#e86a6a" opacity="0.8"/>
<circle cx="141.6" cy="327" r="1.2" fill="#e86a6a" opacity="0.5"/>
<circle cx="199.9" cy="347.4" r="1.2" fill="#e86a6a" opacity="0.5"/>
<circle cx="423.9" cy="336.2" r="1.4" fill="#e86a6a" opacity="0.6"/>
<circle cx="242.1" cy="371.5" r="1" fill="#e86a6a" opacity="0.8"/>
<circle cx="172.4" cy="334.2" r="1.4" fill="#e86a6a" opacity="0.6"/>
<circle cx="439.7" cy="347.4" r="1.6" fill="#e86a6a" opacity="0.8"/>
<circle cx="403.1" cy="335.3" r="1" fill="#e86a6a" opacity="0.5"/>
<circle cx="473.9" cy="365" r="1.2" fill="#e86a6a" opacity="0.5"/>
<circle cx="359.8" cy="350.6" r="1" fill="#e86a6a" opacity="0.8"/>
<circle cx="132.2" cy="335.1" r="1.5" fill="#e86a6a" opacity="0.9"/>
<circle cx="351.3" cy="358.3" r="1.6" fill="#e86a6a" opacity="0.7"/>
<circle cx="429.2" cy="333.6" r="1.5" fill="#e86a6a" opacity="0.6"/>
<circle cx="133.2" cy="346.3" r="1.3" fill="#e86a6a" opacity="0.8"/>
<circle cx="391.4" cy="354.1" r="1.4" fill="#e86a6a" opacity="0.9"/>
<circle cx="322.6" cy="359.6" r="1.5" fill="#e86a6a" opacity="0.7"/>
<circle cx="381.1" cy="342" r="1.5" fill="#e86a6a" opacity="0.8"/>
<circle cx="420.4" cy="341.6" r="1.6" fill="#e86a6a" opacity="0.6"/>
<circle cx="353.3" cy="315.6" r="1.4" fill="#e86a6a" opacity="0.9"/>
<circle cx="477.5" cy="333.6" r="1" fill="#e86a6a" opacity="0.8"/>
<circle cx="274" cy="326.7" r="1.2" fill="#e86a6a" opacity="0.7"/>
<circle cx="501.6" cy="326.3" r="1.2" fill="#e86a6a" opacity="0.8"/>
<circle cx="437.3" cy="328" r="1.3" fill="#e86a6a" opacity="0.6"/>
<circle cx="235.1" cy="316.4" r="1.4" fill="#e86a6a" opacity="0.9"/>
<circle cx="472.9" cy="329.7" r="1.2" fill="#e86a6a" opacity="0.6"/>
<circle cx="335.9" cy="348.5" r="1.1" fill="#e86a6a" opacity="0.7"/>
<circle cx="303.2" cy="360.2" r="1.7" fill="#e86a6a" opacity="0.6"/>
<circle cx="477.6" cy="348.9" r="1.3" fill="#e86a6a" opacity="0.7"/>
<circle cx="211" cy="350.7" r="1.3" fill="#e86a6a" opacity="0.9"/>
<circle cx="271.8" cy="368" r="1.2" fill="#e86a6a" opacity="0.6"/>
<circle cx="180.4" cy="328.5" r="1.6" fill="#e86a6a" opacity="0.9"/>
<circle cx="238.5" cy="369.6" r="1.2" fill="#e86a6a" opacity="0.9"/>
<circle cx="436.9" cy="321.3" r="1.7" fill="#e86a6a" opacity="0.7"/>
<circle cx="115.2" cy="326.4" r="1.6" fill="#e86a6a" opacity="0.5"/>
<circle cx="212.7" cy="324.5" r="1.5" fill="#e86a6a" opacity="0.8"/>
<circle cx="516.6" cy="336.7" r="1.5" fill="#e86a6a" opacity="0.8"/>
<circle cx="385.6" cy="363.7" r="1.2" fill="#e86a6a" opacity="0.7"/>
<circle cx="323.1" cy="366.1" r="1.2" fill="#e86a6a" opacity="0.6"/>
<circle cx="233.2" cy="337.4" r="1.5" fill="#e86a6a" opacity="0.9"/>
<circle cx="444.3" cy="369.6" r="1" fill="#e86a6a" opacity="0.8"/>
<circle cx="314.5" cy="344.9" r="1.6" fill="#e86a6a" opacity="0.9"/>
<circle cx="160.5" cy="343.2" r="1.3" fill="#e86a6a" opacity="0.6"/>
<circle cx="322.4" cy="358.6" r="1.3" fill="#e86a6a" opacity="0.9"/>
<circle cx="310" cy="363.9" r="1" fill="#e86a6a" opacity="0.9"/>
<circle cx="223.2" cy="359.7" r="1.4" fill="#e86a6a" opacity="0.9"/>
<circle cx="182.9" cy="379.1" r="1.4" fill="#e86a6a" opacity="0.9"/>
<circle cx="369.6" cy="347.4" r="1" fill="#e86a6a" opacity="0.7"/>
<circle cx="279.2" cy="373.5" r="1.1" fill="#e86a6a" opacity="0.9"/>
<circle cx="374.6" cy="302.7" r="1.3" fill="#e86a6a" opacity="0.9"/>
<circle cx="244.9" cy="347.9" r="1.6" fill="#e86a6a" opacity="0.7"/>
<circle cx="131.4" cy="312.8" r="1.1" fill="#e86a6a" opacity="0.8"/>
<circle cx="136.9" cy="339.2" r="1.2" fill="#e86a6a" opacity="0.7"/>
<circle cx="391.9" cy="363.8" r="1.7" fill="#e86a6a" opacity="0.8"/>
<circle cx="259.7" cy="334.3" r="1.5" fill="#e86a6a" opacity="0.6"/>
<circle cx="478.2" cy="324" r="1.6" fill="#e86a6a" opacity="0.7"/>
<circle cx="392" cy="349.5" r="1.3" fill="#e86a6a" opacity="0.6"/>
<circle cx="437.9" cy="338.3" r="1.6" fill="#e86a6a" opacity="0.7"/>
<circle cx="317.8" cy="347.3" r="1.3" fill="#e86a6a" opacity="0.6"/>
<circle cx="478.7" cy="358.4" r="1.4" fill="#e86a6a" opacity="0.8"/>
<circle cx="460.5" cy="349.5" r="1.3" fill="#e86a6a" opacity="0.5"/>
<circle cx="272.7" cy="342.7" r="1.6" fill="#e86a6a" opacity="0.8"/>
<circle cx="161.3" cy="330.3" r="1.3" fill="#e86a6a" opacity="0.5"/>
<circle cx="330.5" cy="341.6" r="1.4" fill="#e86a6a" opacity="0.6"/>
<circle cx="515" cy="333.1" r="1.6" fill="#e86a6a" opacity="0.9"/>
<circle cx="151.2" cy="322" r="1.6" fill="#e86a6a" opacity="0.8"/>
<circle cx="494.2" cy="327.9" r="1.1" fill="#e86a6a" opacity="0.6"/>
<circle cx="409" cy="345.6" r="1.3" fill="#e86a6a" opacity="0.8"/>
<circle cx="436.5" cy="338" r="1.6" fill="#e86a6a" opacity="0.7"/>
<circle cx="317.2" cy="329.4" r="1.5" fill="#e86a6a" opacity="0.6"/>
<circle cx="414.2" cy="373.4" r="1.3" fill="#e86a6a" opacity="0.9"/>
<circle cx="230.3" cy="351.6" r="1.6" fill="#e86a6a" opacity="0.5"/>
<circle cx="112.8" cy="369.6" r="1.4" fill="#e86a6a" opacity="0.6"/>
<circle cx="289.5" cy="351.8" r="1.5" fill="#e86a6a" opacity="0.8"/>
<circle cx="462.5" cy="371.2" r="1.1" fill="#e86a6a" opacity="0.6"/>
<circle cx="461.1" cy="346.6" r="1.2" fill="#e86a6a" opacity="0.5"/>
<circle cx="510.6" cy="354.2" r="1.7" fill="#e86a6a" opacity="0.7"/>
<circle cx="229.8" cy="326.4" r="1.3" fill="#e86a6a" opacity="0.9"/>
<circle cx="404.5" cy="319.9" r="1.5" fill="#e86a6a" opacity="0.7"/>
<circle cx="321" cy="319" r="1.2" fill="#e86a6a" opacity="0.6"/>
<circle cx="345.6" cy="324.3" r="1.6" fill="#e86a6a" opacity="0.5"/>
<circle cx="121.1" cy="337.9" r="1.7" fill="#e86a6a" opacity="0.6"/>
<circle cx="299.9" cy="345.1" r="1.5" fill="#e86a6a" opacity="0.7"/>
<circle cx="318.6" cy="367.2" r="1.4" fill="#e86a6a" opacity="0.5"/>
<circle cx="332.8" cy="343" r="1.3" fill="#e86a6a" opacity="0.7"/>
<circle cx="232.5" cy="384.1" r="1.4" fill="#e86a6a" opacity="0.6"/>
<circle cx="340.5" cy="329.9" r="1.6" fill="#e86a6a" opacity="0.6"/>
<circle cx="512.3" cy="323.7" r="1.2" fill="#e86a6a" opacity="0.6"/>
<circle cx="445.1" cy="334.2" r="1.2" fill="#e86a6a" opacity="0.6"/>
<circle cx="504.3" cy="345" r="1.1" fill="#e86a6a" opacity="0.7"/>
<circle cx="504.3" cy="352.9" r="1.3" fill="#e86a6a" opacity="0.8"/>
<circle cx="474.4" cy="360.5" r="1.4" fill="#e86a6a" opacity="0.8"/>
<circle cx="215.1" cy="351.2" r="1.4" fill="#e86a6a" opacity="0.7"/>
<circle cx="289" cy="378.4" r="1.4" fill="#e86a6a" opacity="0.6"/>
<circle cx="364.9" cy="339.7" r="1.1" fill="#e86a6a" opacity="0.6"/>
<circle cx="424.1" cy="376.3" r="1" fill="#e86a6a" opacity="0.8"/>
<circle cx="436.7" cy="361.8" r="1.5" fill="#e86a6a" opacity="0.8"/>
<circle cx="194.3" cy="347.1" r="1.2" fill="#e86a6a" opacity="0.8"/>
<circle cx="120.9" cy="315.5" r="1.5" fill="#e86a6a" opacity="0.7"/>
<circle cx="118" cy="335.9" r="1.6" fill="#e86a6a" opacity="0.8"/>
<circle cx="419" cy="359.2" r="1.4" fill="#e86a6a" opacity="0.7"/>
<circle cx="369.7" cy="333.2" r="1.2" fill="#e86a6a" opacity="0.5"/>
<circle cx="415.7" cy="340.4" r="1.5" fill="#e86a6a" opacity="0.7"/>
<circle cx="123.6" cy="339.7" r="1.2" fill="#e86a6a" opacity="0.8"/>
<circle cx="261.2" cy="319.2" r="1.6" fill="#e86a6a" opacity="0.7"/>
<circle cx="145.5" cy="338.7" r="1.6" fill="#e86a6a" opacity="0.9"/>
<circle cx="461.3" cy="357.9" r="1.4" fill="#e86a6a" opacity="0.6"/>
<circle cx="271.5" cy="331.8" r="1.7" fill="#e86a6a" opacity="0.6"/>
<circle cx="226" cy="364.6" r="1.6" fill="#e86a6a" opacity="0.7"/>
<circle cx="430.2" cy="344.6" r="1.6" fill="#e86a6a" opacity="0.7"/>
<circle cx="168.4" cy="336.6" r="1.1" fill="#e86a6a" opacity="0.8"/>
<circle cx="330.1" cy="374.9" r="1.7" fill="#e86a6a" opacity="0.5"/>
<circle cx="432.6" cy="351.1" r="1.1" fill="#e86a6a" opacity="0.7"/>
<circle cx="487.6" cy="355.2" r="1.4" fill="#e86a6a" opacity="0.7"/>
<circle cx="427.9" cy="334.7" r="1.6" fill="#e86a6a" opacity="0.5"/>
</g>
<path d="M111 142 105.1 142 106.6 147 107.3 152 109.3 157 106.6 162 109 167 97.4 172 103.1 177 109.3 182 105.4 187 108.7 192 98.5 197 103.1 202 100.2 207 104.1 212 104.5 217 97.2 222 99.8 227 100.6 232 108.9 237 107 242 99.1 247 107.4 252 98.8 257 105 262 98.6 267 97 272 108.3 277 99.7 282 99.8 287 109.8 292 108.3 297 100.8 302 109.5 307 104 312 105.8 317 99.7 322 109.2 327 106 332 109.6 337 111 338Z" fill="#eef0f0"/><path d="M111 142 105.1 142 106.6 147 107.3 152 109.3 157 106.6 162 109 167 97.4 172 103.1 177 109.3 182 105.4 187 108.7 192 98.5 197 103.1 202 100.2 207 104.1 212 104.5 217 97.2 222 99.8 227 100.6 232 108.9 237 107 242 99.1 247 107.4 252 98.8 257 105 262 98.6 267 97 272 108.3 277 99.7 282 99.8 287 109.8 292 108.3 297 100.8 302 109.5 307 104 312 105.8 317 99.7 322 109.2 327 106 332 109.6 337 111 338Z" fill="url(#pB)"/>
<path d="M523.5 118 553.2 118 537.8 125 539.4 132 534.3 139 533.8 146 531.7 153 537.8 160 545.7 167 530.1 174 547.6 181 538.8 188 538.1 195 551.3 202 542.5 209 538.2 216 542.5 223 548.3 230 531.5 237 555.4 244 530.6 251 549.5 258 552 265 530.5 272 550.5 279 539.5 286 545 293 530.2 300 531.2 307 534.7 314 554.8 321 535.1 328 549.6 335 554.2 342 554.5 349 523.5 350Z" fill="#f2f4f4" opacity="0.55"/><path d="M523.5 118 553.2 118 537.8 125 539.4 132 534.3 139 533.8 146 531.7 153 537.8 160 545.7 167 530.1 174 547.6 181 538.8 188 538.1 195 551.3 202 542.5 209 538.2 216 542.5 223 548.3 230 531.5 237 555.4 244 530.6 251 549.5 258 552 265 530.5 272 550.5 279 539.5 286 545 293 530.2 300 531.2 307 534.7 314 554.8 321 535.1 328 549.6 335 554.2 342 554.5 349 523.5 350Z" fill="url(#pB)" opacity="0.5"/>
<g fill="none" stroke-linecap="round" stroke-linejoin="round">
<path d="M78 190 87 193 87 203 95 205 103 202 111 198 M77 241 84 244 91 238 97 233 103 228 111 223 M100 250 98 258 103 265 101 273 M96 284 99 292 95 300 99 308 104 314 M88 300 94 296 M101 150 96 156 100 163 M99 338 96 345 101 350 106 345" stroke="#7fb3b5" stroke-width="3.4" opacity="0.5"/>
<path d="M78 190 87 193 87 203 95 205 103 202 111 198 M77 241 84 244 91 238 97 233 103 228 111 223 M100 250 98 258 103 265 101 273 M96 284 99 292 95 300 99 308 104 314 M88 300 94 296 M101 150 96 156 100 163 M99 338 96 345 101 350 106 345" stroke="#a9e0e2" stroke-width="2.4"/>
<path d="M536.8 168 542.7 172.6 537.3 177.2 541.8 181.8 537.3 186.4 541 191 537.4 195.6 542 200.2 537.5 204.8 542 209.4 536.8 214 542.8 218.6 537.8 223.2 541.8 227.8 538 232.4 541.7 237 M546.1 215 551.4 219.6 546.5 224.2 551.2 228.8 545.5 233.4 549.1 238 546.3 242.6 551.2 247.2 M541 272 546.2 276.6 541.6 281.2 547.2 285.8 541.9 290.4 545.8 295 541.4 299.6 546.5 304.2 541.7 308.8 546.3 313.4 540.4 318 M533.9 118 538.5 122.6 532.4 127.2 537.9 131.8 533.1 136.4" stroke="#9cc9cb" stroke-width="2.8" opacity="0.3"/>
<path d="M536.8 168 542.7 172.6 537.3 177.2 541.8 181.8 537.3 186.4 541 191 537.4 195.6 542 200.2 537.5 204.8 542 209.4 536.8 214 542.8 218.6 537.8 223.2 541.8 227.8 538 232.4 541.7 237 M546.1 215 551.4 219.6 546.5 224.2 551.2 228.8 545.5 233.4 549.1 238 546.3 242.6 551.2 247.2 M541 272 546.2 276.6 541.6 281.2 547.2 285.8 541.9 290.4 545.8 295 541.4 299.6 546.5 304.2 541.7 308.8 546.3 313.4 540.4 318 M533.9 118 538.5 122.6 532.4 127.2 537.9 131.8 533.1 136.4" stroke="#bfe6e8" stroke-width="1.9" opacity="0.7"/>
</g>
<circle cx="537" cy="125" r="2.6" fill="#8c8cf0" opacity="0.8"/><path d="M533 147l8 0" stroke="#d9c98a" stroke-width="2" opacity="0.8"/>
<circle cx="537" cy="355" r="2.6" fill="#8c8cf0" opacity="0.8"/><circle cx="101" cy="345" r="2.4" fill="#8c8cf0" opacity="0.8"/>
<defs><radialGradient id="sC" cx="0.35" cy="0.35" r="0.7"><stop offset="0" stop-color="#a8dadc"/><stop offset="0.6" stop-color="#62a8ab"/><stop offset="1" stop-color="#3b7477"/></radialGradient>
<radialGradient id="sH" cx="0.35" cy="0.35" r="0.7"><stop offset="0" stop-color="#ffffff"/><stop offset="0.6" stop-color="#d4d6d6"/><stop offset="1" stop-color="#8e9494"/></radialGradient>
<radialGradient id="sO" cx="0.35" cy="0.35" r="0.7"><stop offset="0" stop-color="#f08a8a"/><stop offset="0.6" stop-color="#c8323c"/><stop offset="1" stop-color="#7a1a20"/></radialGradient></defs>
<g opacity="0.85">
<path d="M402 164 C406 158 416 160 418 170 L420 200 C424 212 421 226 414 232 C406 238 396 234 391 226 C389 214 395 200 398 186 Z" fill="#93b9bc"/>
<circle cx="413.9" cy="207.3" r="2.7" fill="url(#sH)"/><circle cx="416.4" cy="216.3" r="2.6" fill="url(#sH)"/><circle cx="414.4" cy="177.1" r="2.6" fill="url(#sC)"/><circle cx="400.2" cy="194.3" r="2.4" fill="url(#sC)"/><circle cx="410" cy="200.3" r="2.6" fill="url(#sH)"/><circle cx="397.7" cy="226.6" r="3.1" fill="url(#sC)"/><circle cx="405.2" cy="166.9" r="2.9" fill="url(#sC)"/><circle cx="416.2" cy="210" r="2.6" fill="url(#sC)"/><circle cx="405.4" cy="203.1" r="2.7" fill="url(#sH)"/><circle cx="396.1" cy="214.9" r="2.6" fill="url(#sH)"/><circle cx="410.1" cy="222.3" r="2.4" fill="url(#sC)"/><circle cx="405.3" cy="182.4" r="3.1" fill="url(#sH)"/><circle cx="398.7" cy="208.6" r="2.6" fill="url(#sC)"/><circle cx="396" cy="214.1" r="2.5" fill="url(#sC)"/><circle cx="415.6" cy="208.9" r="2.9" fill="url(#sC)"/><circle cx="416.2" cy="228.9" r="2.8" fill="url(#sC)"/><circle cx="405.1" cy="176.2" r="3" fill="url(#sH)"/><circle cx="415" cy="198" r="2.8" fill="url(#sH)"/><circle cx="408.8" cy="175.2" r="2.5" fill="url(#sC)"/><circle cx="403.7" cy="213.6" r="2.5" fill="url(#sC)"/><circle cx="401" cy="213.2" r="2.7" fill="url(#sH)"/><circle cx="415.2" cy="182.5" r="2.8" fill="url(#sC)"/><circle cx="412.1" cy="211.1" r="3.2" fill="url(#sC)"/><circle cx="401.4" cy="175.1" r="2.7" fill="url(#sH)"/><circle cx="409.6" cy="178.3" r="3" fill="url(#sH)"/><circle cx="401.4" cy="170.7" r="2.6" fill="url(#sH)"/><circle cx="415.2" cy="186.1" r="2.8" fill="url(#sC)"/><circle cx="409.2" cy="224.6" r="2.6" fill="url(#sC)"/><circle cx="398.9" cy="222.6" r="3.1" fill="url(#sC)"/><circle cx="408.8" cy="216" r="2.9" fill="url(#sC)"/><circle cx="396.1" cy="215.2" r="3.1" fill="url(#sH)"/><circle cx="413.9" cy="191.6" r="2.7" fill="url(#sH)"/><circle cx="414.2" cy="203.4" r="2.6" fill="url(#sC)"/><circle cx="408.7" cy="229.6" r="3.1" fill="url(#sC)"/><circle cx="401.1" cy="182.2" r="3.1" fill="url(#sC)"/><circle cx="414.2" cy="231.4" r="3" fill="url(#sH)"/><circle cx="408.3" cy="198.3" r="2.8" fill="url(#sH)"/><circle cx="408.9" cy="170" r="2.7" fill="url(#sC)"/><circle cx="402.4" cy="200.1" r="3" fill="url(#sC)"/><circle cx="399.1" cy="216" r="3" fill="url(#sC)"/><circle cx="401.5" cy="187.5" r="2.5" fill="url(#sC)"/><circle cx="404.7" cy="209.4" r="3.1" fill="url(#sH)"/><circle cx="409.3" cy="209" r="3.2" fill="url(#sC)"/><circle cx="406.2" cy="230.5" r="3.2" fill="url(#sH)"/><circle cx="411.1" cy="210.9" r="2.9" fill="url(#sC)"/><circle cx="414.5" cy="199.9" r="2.5" fill="url(#sH)"/><circle cx="409.9" cy="167.6" r="2.4" fill="url(#sC)"/><circle cx="408.7" cy="184.2" r="2.7" fill="url(#sH)"/><circle cx="412.7" cy="194.2" r="2.8" fill="url(#sC)"/><circle cx="401.9" cy="187.6" r="3.3" fill="url(#sC)"/><circle cx="396.3" cy="209.2" r="2.5" fill="url(#sH)"/><circle cx="408.9" cy="190.6" r="2.6" fill="url(#sC)"/><circle cx="409.5" cy="195.7" r="3" fill="url(#sC)"/><circle cx="408.8" cy="214.2" r="3.2" fill="url(#sC)"/><circle cx="406.8" cy="183.3" r="2.8" fill="url(#sH)"/><circle cx="404.9" cy="186.2" r="2.8" fill="url(#sH)"/><circle cx="415.8" cy="213" r="2.5" fill="url(#sH)"/><circle cx="413.7" cy="179.3" r="3.1" fill="url(#sC)"/><circle cx="402.2" cy="172" r="2.8" fill="url(#sH)"/><circle cx="403.9" cy="206.9" r="3" fill="url(#sH)"/><circle cx="418.7" cy="230.9" r="2.5" fill="url(#sH)"/><circle cx="410.4" cy="194.6" r="2.8" fill="url(#sC)"/><circle cx="400" cy="204.4" r="2.5" fill="url(#sH)"/><circle cx="407.7" cy="167.9" r="3.2" fill="url(#sH)"/><circle cx="416.3" cy="229.8" r="2.9" fill="url(#sC)"/><circle cx="410.5" cy="181.7" r="3" fill="url(#sH)"/><circle cx="405.5" cy="176.4" r="2.8" fill="url(#sC)"/><circle cx="410.1" cy="196.4" r="3.1" fill="url(#sC)"/><circle cx="409.2" cy="210.1" r="2.5" fill="url(#sH)"/><circle cx="398.7" cy="230.4" r="2.7" fill="url(#sH)"/><circle cx="414.7" cy="207.5" r="2.7" fill="url(#sH)"/><circle cx="408.7" cy="170.9" r="2.8" fill="url(#sC)"/><circle cx="405.8" cy="195.1" r="3.2" fill="url(#sH)"/><circle cx="397.2" cy="228.1" r="3.4" fill="url(#sC)"/><circle cx="405" cy="178.6" r="2.4" fill="url(#sC)"/><circle cx="408.4" cy="177" r="3.3" fill="url(#sC)"/><circle cx="413.6" cy="194.5" r="2.6" fill="url(#sH)"/><circle cx="414.4" cy="193.5" r="2.6" fill="url(#sH)"/><circle cx="413.5" cy="203.9" r="3" fill="url(#sC)"/><circle cx="412.7" cy="196.9" r="3.1" fill="url(#sC)"/><circle cx="406.4" cy="170.8" r="3.2" fill="url(#sC)"/><circle cx="410.1" cy="231.3" r="2.6" fill="url(#sC)"/><circle cx="407.3" cy="198.8" r="2.8" fill="url(#sH)"/><circle cx="410.4" cy="198.4" r="2.9" fill="url(#sH)"/><circle cx="401.5" cy="176.1" r="2.7" fill="url(#sC)"/><circle cx="395.7" cy="208.2" r="3" fill="url(#sH)"/><circle cx="399.5" cy="210.1" r="2.5" fill="url(#sH)"/><circle cx="402.9" cy="220.7" r="2.8" fill="url(#sC)"/><circle cx="408.7" cy="176.7" r="2.6" fill="url(#sH)"/><circle cx="403.9" cy="218.1" r="2.4" fill="url(#sC)"/><circle cx="404.7" cy="181.4" r="2.6" fill="url(#sH)"/><circle cx="401.9" cy="179.1" r="3.2" fill="url(#sH)"/><circle cx="403.4" cy="193.9" r="2.6" fill="url(#sH)"/><circle cx="411.4" cy="199.2" r="2.9" fill="url(#sH)"/><circle cx="409.7" cy="207.8" r="2.4" fill="url(#sC)"/>
</g>
<circle cx="412" cy="160" r="4.6" fill="#b03a44" opacity="0.75"/>
<path d="M388 242 C392 234 408 233 413 240 C416 252 414 262 416 272 C419 288 416 304 410 312 C402 318 388 318 382 308 C379 296 382 284 385 272 C387 262 385 250 388 242 Z" fill="#5f9ea1"/>
<circle cx="406.5" cy="269.5" r="3.5" fill="url(#sH)"/><circle cx="399.7" cy="244.8" r="3" fill="url(#sC)"/><circle cx="395.4" cy="269.7" r="3" fill="url(#sH)"/><circle cx="402.7" cy="259.2" r="3.3" fill="url(#sH)"/><circle cx="391.8" cy="253.8" r="3" fill="url(#sH)"/><circle cx="407" cy="243.9" r="3" fill="url(#sH)"/><circle cx="388" cy="253.3" r="3.5" fill="url(#sC)"/><circle cx="406.1" cy="244.6" r="2.9" fill="url(#sC)"/><circle cx="394.4" cy="252.1" r="2.9" fill="url(#sH)"/><circle cx="390.4" cy="245" r="2.7" fill="url(#sC)"/><circle cx="405.5" cy="239" r="3.7" fill="url(#sH)"/><circle cx="407.4" cy="247.5" r="3.3" fill="url(#sH)"/><circle cx="408.7" cy="253.6" r="3.4" fill="url(#sH)"/><circle cx="404.4" cy="262.5" r="2.8" fill="url(#sH)"/><circle cx="391.1" cy="267.3" r="3.1" fill="url(#sH)"/><circle cx="400.8" cy="249.3" r="3.2" fill="url(#sH)"/><circle cx="389.2" cy="261" r="2.9" fill="url(#sC)"/><circle cx="402.6" cy="241.3" r="3.3" fill="url(#sC)"/><circle cx="390" cy="252.7" r="3.7" fill="url(#sH)"/><circle cx="395.5" cy="257.1" r="3.6" fill="url(#sH)"/><circle cx="393.7" cy="261.9" r="2.9" fill="url(#sH)"/><circle cx="410.9" cy="262.1" r="2.7" fill="url(#sC)"/><circle cx="403.4" cy="257.7" r="3.3" fill="url(#sH)"/><circle cx="405.5" cy="242.3" r="3.3" fill="url(#sH)"/><circle cx="408.6" cy="239" r="3.7" fill="url(#sH)"/><circle cx="387.3" cy="254.7" r="3.6" fill="url(#sH)"/><circle cx="393.1" cy="247.1" r="3.4" fill="url(#sC)"/><circle cx="405" cy="239.9" r="3.4" fill="url(#sH)"/><circle cx="411.9" cy="254.4" r="3" fill="url(#sH)"/><circle cx="399.6" cy="260.5" r="3.1" fill="url(#sC)"/><circle cx="397.9" cy="255.6" r="2.8" fill="url(#sH)"/><circle cx="391.5" cy="268.4" r="3.2" fill="url(#sH)"/><circle cx="403.1" cy="252.2" r="3.5" fill="url(#sH)"/><circle cx="398.2" cy="256.8" r="2.8" fill="url(#sC)"/><circle cx="410.1" cy="265.3" r="3.6" fill="url(#sH)"/><circle cx="410.1" cy="262.8" r="3.3" fill="url(#sC)"/><circle cx="390.5" cy="249" r="2.8" fill="url(#sH)"/><circle cx="403.9" cy="246.7" r="3.1" fill="url(#sH)"/><circle cx="399.3" cy="268.9" r="3" fill="url(#sH)"/><circle cx="390" cy="238.3" r="3" fill="url(#sH)"/><circle cx="391.3" cy="255.6" r="3.4" fill="url(#sH)"/><circle cx="390.3" cy="258.1" r="2.7" fill="url(#sC)"/><circle cx="392.6" cy="260.4" r="2.8" fill="url(#sH)"/><circle cx="393" cy="263" r="3.4" fill="url(#sH)"/><circle cx="397.3" cy="245.8" r="3.6" fill="url(#sH)"/><circle cx="405.3" cy="267.7" r="3.6" fill="url(#sH)"/><circle cx="410.8" cy="250.8" r="3.6" fill="url(#sH)"/><circle cx="409.5" cy="260" r="3" fill="url(#sC)"/><circle cx="388.3" cy="256.5" r="3" fill="url(#sC)"/><circle cx="399.7" cy="263.8" r="2.8" fill="url(#sH)"/><circle cx="406.8" cy="258.5" r="3.1" fill="url(#sH)"/><circle cx="393.5" cy="253.1" r="3.4" fill="url(#sC)"/><circle cx="395.9" cy="247.3" r="3.3" fill="url(#sH)"/><circle cx="409.4" cy="246.5" r="3.1" fill="url(#sH)"/><circle cx="400.9" cy="241.7" r="3.1" fill="url(#sC)"/><circle cx="391.1" cy="264.3" r="3.5" fill="url(#sH)"/><circle cx="396.4" cy="248" r="3.1" fill="url(#sH)"/><circle cx="410" cy="259.7" r="2.8" fill="url(#sH)"/>
<circle cx="397.9" cy="303.3" r="2.5" fill="url(#sC)"/><circle cx="404.7" cy="300.4" r="2.6" fill="url(#sC)"/><circle cx="399.3" cy="269.7" r="2.3" fill="url(#sH)"/><circle cx="390" cy="280.7" r="3.1" fill="url(#sC)"/><circle cx="408.2" cy="297.3" r="2.7" fill="url(#sC)"/><circle cx="409.8" cy="303.1" r="2.6" fill="url(#sH)"/><circle cx="385.3" cy="278.2" r="2.9" fill="url(#sC)"/><circle cx="407.7" cy="304.4" r="3" fill="url(#sC)"/><circle cx="407.2" cy="310.3" r="2.7" fill="url(#sC)"/><circle cx="399.9" cy="281.8" r="3.2" fill="url(#sC)"/><circle cx="389.8" cy="296.1" r="2.3" fill="url(#sH)"/><circle cx="408.6" cy="268.7" r="2.6" fill="url(#sC)"/><circle cx="384.3" cy="313.4" r="3.3" fill="url(#sC)"/><circle cx="397.9" cy="299.4" r="2.5" fill="url(#sC)"/><circle cx="395.3" cy="265.5" r="2.7" fill="url(#sH)"/><circle cx="389" cy="275.8" r="2.5" fill="url(#sH)"/><circle cx="400.6" cy="300.6" r="2.6" fill="url(#sC)"/><circle cx="406.5" cy="272.9" r="2.9" fill="url(#sC)"/><circle cx="405.6" cy="280.6" r="2.9" fill="url(#sC)"/><circle cx="391.7" cy="304.5" r="3.5" fill="url(#sC)"/><circle cx="394.5" cy="266.1" r="2.7" fill="url(#sC)"/><circle cx="404.6" cy="305.9" r="2.4" fill="url(#sH)"/><circle cx="399.9" cy="312.8" r="3.5" fill="url(#sC)"/><circle cx="404.6" cy="287.7" r="3.5" fill="url(#sC)"/><circle cx="406" cy="273.4" r="2.9" fill="url(#sC)"/><circle cx="396.9" cy="266.6" r="3" fill="url(#sC)"/><circle cx="398.4" cy="310" r="2.9" fill="url(#sH)"/><circle cx="405.4" cy="311.6" r="3.5" fill="url(#sC)"/><circle cx="384.4" cy="295.4" r="3.3" fill="url(#sC)"/><circle cx="397.1" cy="314.4" r="3.3" fill="url(#sC)"/><circle cx="411.7" cy="264.1" r="3.4" fill="url(#sC)"/><circle cx="409" cy="314.3" r="2.5" fill="url(#sC)"/><circle cx="412.5" cy="284.8" r="3.4" fill="url(#sC)"/><circle cx="397" cy="304.2" r="2.7" fill="url(#sC)"/><circle cx="402.1" cy="292.9" r="3" fill="url(#sH)"/><circle cx="411.4" cy="279.4" r="2.6" fill="url(#sC)"/><circle cx="401" cy="310.8" r="3.1" fill="url(#sC)"/><circle cx="394.5" cy="303.2" r="3.3" fill="url(#sC)"/><circle cx="399.3" cy="282.8" r="3.5" fill="url(#sC)"/><circle cx="408.7" cy="296.7" r="3" fill="url(#sC)"/><circle cx="399" cy="288.1" r="2.7" fill="url(#sC)"/><circle cx="392.1" cy="292.1" r="2.4" fill="url(#sH)"/><circle cx="393.1" cy="293.2" r="3.1" fill="url(#sC)"/><circle cx="396.3" cy="288.7" r="2.4" fill="url(#sH)"/><circle cx="407" cy="309.8" r="2.6" fill="url(#sC)"/><circle cx="400.9" cy="273.2" r="3.6" fill="url(#sC)"/><circle cx="412.6" cy="272.4" r="2.6" fill="url(#sC)"/><circle cx="396.7" cy="306.5" r="3.1" fill="url(#sC)"/><circle cx="399.5" cy="277.8" r="2.5" fill="url(#sC)"/><circle cx="406.7" cy="294.9" r="3.5" fill="url(#sC)"/><circle cx="398.8" cy="307.2" r="2.5" fill="url(#sC)"/><circle cx="387.6" cy="314.7" r="2.4" fill="url(#sC)"/><circle cx="397.6" cy="303.2" r="3.4" fill="url(#sC)"/><circle cx="401.8" cy="296.5" r="3.2" fill="url(#sC)"/><circle cx="405.9" cy="314.8" r="2.9" fill="url(#sC)"/><circle cx="389.1" cy="295.5" r="2.4" fill="url(#sH)"/><circle cx="410.6" cy="300.3" r="2.9" fill="url(#sC)"/><circle cx="401.2" cy="309.5" r="2.7" fill="url(#sC)"/><circle cx="402.2" cy="300.8" r="2.5" fill="url(#sH)"/><circle cx="406" cy="278.4" r="2.7" fill="url(#sC)"/><circle cx="391" cy="298.2" r="3" fill="url(#sH)"/><circle cx="398.8" cy="291" r="2.4" fill="url(#sH)"/><circle cx="411.2" cy="272.2" r="2.9" fill="url(#sH)"/><circle cx="404.6" cy="269.3" r="3.5" fill="url(#sC)"/><circle cx="402.1" cy="272.7" r="2.5" fill="url(#sH)"/><circle cx="410.1" cy="290.8" r="2.7" fill="url(#sH)"/><circle cx="387.4" cy="265.7" r="2.7" fill="url(#sH)"/><circle cx="399.1" cy="306.1" r="2.6" fill="url(#sC)"/><circle cx="393.3" cy="313" r="2.8" fill="url(#sC)"/><circle cx="410.6" cy="304.1" r="2.6" fill="url(#sC)"/><circle cx="393.5" cy="311.8" r="3.2" fill="url(#sC)"/><circle cx="408.5" cy="272.4" r="2.9" fill="url(#sC)"/><circle cx="404.9" cy="270" r="2.7" fill="url(#sH)"/><circle cx="386.2" cy="306.3" r="3.6" fill="url(#sC)"/><circle cx="413.8" cy="266" r="3.4" fill="url(#sC)"/><circle cx="396.4" cy="281.2" r="3.3" fill="url(#sC)"/><circle cx="408.3" cy="277.9" r="2.9" fill="url(#sH)"/><circle cx="408" cy="266.7" r="3.5" fill="url(#sC)"/><circle cx="388.4" cy="293.4" r="2.6" fill="url(#sH)"/><circle cx="410" cy="268.5" r="2.9" fill="url(#sC)"/><circle cx="397.5" cy="285" r="2.6" fill="url(#sH)"/><circle cx="402.7" cy="278.4" r="2.5" fill="url(#sC)"/>
<circle cx="393" cy="317.5" r="5.3" fill="url(#sO)"/>
<circle cx="277.5" cy="36.4" r="1.1" fill="#e07070" opacity="0.6"/>
<circle cx="146.3" cy="449.7" r="1.5" fill="#f0d0d0" opacity="0.7"/>
<circle cx="498.5" cy="35.5" r="1.6" fill="#b9b9b9" opacity="0.7"/>
<circle cx="438.2" cy="449.9" r="1.7" fill="#b9b9b9" opacity="0.6"/>
<circle cx="301.3" cy="36.5" r="1.2" fill="#f0d0d0" opacity="0.9"/>
<circle cx="329.1" cy="449.8" r="1.2" fill="#b9b9b9" opacity="0.5"/>
<circle cx="341.2" cy="35.7" r="1.8" fill="#c9c9c9" opacity="0.7"/>
<circle cx="301.6" cy="450.2" r="1.3" fill="#f0d0d0" opacity="0.5"/>
<circle cx="163.9" cy="34.1" r="1.6" fill="#e07070" opacity="0.7"/>
<circle cx="492.9" cy="448" r="1.5" fill="#f0d0d0" opacity="0.5"/>
<circle cx="120.1" cy="35.6" r="1" fill="#b9b9b9" opacity="0.7"/>
<circle cx="146.1" cy="448.4" r="1.2" fill="#e98a8a" opacity="0.6"/>
<circle cx="278.1" cy="34.3" r="1.5" fill="#e98a8a" opacity="0.7"/>
<circle cx="336.1" cy="450" r="1.2" fill="#e07070" opacity="0.8"/>
<circle cx="491.8" cy="36.6" r="1.6" fill="#f0d0d0" opacity="0.6"/>
<circle cx="499.7" cy="447.9" r="1" fill="#e98a8a" opacity="0.6"/>
<circle cx="184" cy="36.6" r="1.7" fill="#e07070" opacity="0.6"/>
<circle cx="316.9" cy="448.2" r="1" fill="#c9c9c9" opacity="0.8"/>
<circle cx="187.4" cy="36.8" r="0.9" fill="#c9c9c9" opacity="0.8"/>
<circle cx="250" cy="448.6" r="1.6" fill="#c9c9c9" opacity="0.7"/>
<circle cx="281.7" cy="35.9" r="1.1" fill="#e98a8a" opacity="0.5"/>
<circle cx="264.7" cy="450.1" r="1.1" fill="#b9b9b9" opacity="0.8"/>
<circle cx="204" cy="34.8" r="1.7" fill="#e98a8a" opacity="0.8"/>
<circle cx="200.9" cy="449.9" r="1.2" fill="#e07070" opacity="0.7"/>
<circle cx="507.1" cy="34.4" r="1.8" fill="#b9b9b9" opacity="0.6"/>
<circle cx="318.6" cy="450.2" r="1.6" fill="#c9c9c9" opacity="0.7"/>
<circle cx="495" cy="36.2" r="1.3" fill="#c9c9c9" opacity="0.8"/>
<circle cx="363.2" cy="448.3" r="1.7" fill="#f0d0d0" opacity="0.7"/>
<circle cx="406.1" cy="36.4" r="1.7" fill="#c9c9c9" opacity="0.6"/>
<circle cx="386.3" cy="449.6" r="1.7" fill="#e07070" opacity="0.8"/>
<circle cx="437" cy="36.2" r="1.6" fill="#b9b9b9" opacity="0.8"/>
<circle cx="206.1" cy="450.1" r="1.5" fill="#c9c9c9" opacity="0.5"/>
<circle cx="317.9" cy="36.4" r="1.2" fill="#f0d0d0" opacity="0.8"/>
<circle cx="419.6" cy="448" r="1.7" fill="#b9b9b9" opacity="0.6"/>
<circle cx="462.6" cy="35.7" r="1.4" fill="#f0d0d0" opacity="0.7"/>
<circle cx="371.7" cy="449.8" r="1.1" fill="#c9c9c9" opacity="0.5"/>
<circle cx="154" cy="36.1" r="0.9" fill="#f0d0d0" opacity="0.5"/>
<circle cx="234.4" cy="450.4" r="1.4" fill="#f0d0d0" opacity="0.6"/>
<circle cx="151.9" cy="34.4" r="1.3" fill="#b9b9b9" opacity="0.6"/>
<circle cx="301.1" cy="447.9" r="1.7" fill="#e07070" opacity="0.8"/>
<circle cx="397.7" cy="35.8" r="1.8" fill="#f0d0d0" opacity="0.6"/>
<circle cx="213.9" cy="448.3" r="1.7" fill="#f0d0d0" opacity="0.8"/>
<circle cx="186.4" cy="34.3" r="1.4" fill="#b9b9b9" opacity="0.8"/>
<circle cx="489.3" cy="449.5" r="1.4" fill="#e98a8a" opacity="0.9"/>
<circle cx="326.8" cy="36.7" r="1" fill="#b9b9b9" opacity="0.8"/>
<circle cx="112.1" cy="449.5" r="1.5" fill="#c9c9c9" opacity="0.7"/>
<circle cx="281.7" cy="36.5" r="1.7" fill="#f0d0d0" opacity="0.7"/>
<circle cx="130.2" cy="449" r="1.6" fill="#f0d0d0" opacity="0.6"/>
<circle cx="292.1" cy="34.9" r="1.1" fill="#b9b9b9" opacity="0.6"/>
<circle cx="310.9" cy="448.3" r="1" fill="#c9c9c9" opacity="0.9"/>
<circle cx="431.2" cy="36.5" r="1.5" fill="#c9c9c9" opacity="0.8"/>
<circle cx="144.2" cy="449.5" r="1.6" fill="#e07070" opacity="0.6"/>
<circle cx="146.3" cy="34.7" r="1" fill="#b9b9b9" opacity="0.8"/>
<circle cx="407" cy="449.3" r="1" fill="#f0d0d0" opacity="0.8"/>
<circle cx="479.8" cy="34.6" r="1.1" fill="#b9b9b9" opacity="0.6"/>
<circle cx="156.5" cy="449" r="1.6" fill="#f0d0d0" opacity="0.5"/>
<circle cx="266.3" cy="35" r="1.6" fill="#e98a8a" opacity="0.9"/>
<circle cx="344.9" cy="449.7" r="1.7" fill="#f0d0d0" opacity="0.5"/>
<circle cx="448.4" cy="34.4" r="1.6" fill="#e07070" opacity="0.6"/>
<circle cx="240.1" cy="447.6" r="0.9" fill="#b9b9b9" opacity="0.9"/>
<circle cx="165.4" cy="37" r="1.6" fill="#c9c9c9" opacity="0.6"/>
<circle cx="161.6" cy="448.8" r="0.9" fill="#e98a8a" opacity="0.6"/>
<circle cx="393.1" cy="34.5" r="1.6" fill="#c9c9c9" opacity="0.9"/>
<circle cx="266.2" cy="448.3" r="1.4" fill="#e07070" opacity="0.8"/>
<circle cx="118.2" cy="34.4" r="1.6" fill="#c9c9c9" opacity="0.7"/>
<circle cx="406.4" cy="449.8" r="1.4" fill="#e07070" opacity="0.9"/>
<circle cx="198.2" cy="35.1" r="1.7" fill="#e07070" opacity="0.5"/>
<circle cx="112.3" cy="450.3" r="1" fill="#e07070" opacity="0.9"/>
<circle cx="370.7" cy="36.8" r="1.1" fill="#c9c9c9" opacity="0.8"/>
<circle cx="172" cy="450.3" r="1.4" fill="#e98a8a" opacity="0.9"/>
<circle cx="514.3" cy="36.8" r="1.1" fill="#f0d0d0" opacity="0.7"/>
<circle cx="308.2" cy="449.3" r="1.4" fill="#c9c9c9" opacity="0.6"/>
<circle cx="347.4" cy="36.4" r="1.3" fill="#e98a8a" opacity="0.6"/>
<circle cx="441.6" cy="447.9" r="1.1" fill="#e07070" opacity="0.8"/>
<circle cx="179.9" cy="35.5" r="1.7" fill="#f0d0d0" opacity="0.8"/>
<circle cx="142.4" cy="448.2" r="1.5" fill="#e07070" opacity="0.7"/>
<circle cx="327.3" cy="36.8" r="1.2" fill="#c9c9c9" opacity="0.7"/>
<circle cx="315.5" cy="447.8" r="1.7" fill="#e98a8a" opacity="0.7"/>
<circle cx="240.8" cy="34.2" r="1.1" fill="#c9c9c9" opacity="0.9"/>
<circle cx="388.3" cy="447.5" r="1.2" fill="#f0d0d0" opacity="0.8"/>
<circle cx="157.7" cy="36" r="1.5" fill="#e07070" opacity="0.7"/>
<circle cx="192.4" cy="447.7" r="1.2" fill="#e98a8a" opacity="0.6"/>
<circle cx="142.9" cy="34.4" r="1.2" fill="#e98a8a" opacity="0.6"/>
<circle cx="265.7" cy="449.1" r="0.9" fill="#e98a8a" opacity="0.6"/>
<circle cx="202.3" cy="35.1" r="1.5" fill="#e98a8a" opacity="0.7"/>
<circle cx="382.4" cy="447.7" r="1.3" fill="#c9c9c9" opacity="0.7"/>
<circle cx="265.9" cy="35.3" r="1.2" fill="#c9c9c9" opacity="0.6"/>
<circle cx="158.8" cy="449.1" r="1.7" fill="#e98a8a" opacity="0.6"/>
<circle cx="245.3" cy="36.7" r="1.5" fill="#c9c9c9" opacity="0.6"/>
<circle cx="293.4" cy="448.8" r="1.4" fill="#e98a8a" opacity="0.6"/>
<circle cx="431.7" cy="36.6" r="1.2" fill="#e98a8a" opacity="0.8"/>
<circle cx="483.5" cy="449.6" r="1.6" fill="#b9b9b9" opacity="0.8"/>
<circle cx="321.2" cy="36.3" r="1.7" fill="#f0d0d0" opacity="0.8"/>
<circle cx="489.3" cy="448.7" r="1" fill="#e07070" opacity="0.9"/>
<circle cx="298.1" cy="35.5" r="1" fill="#f0d0d0" opacity="0.5"/>
<circle cx="343.3" cy="449.4" r="1.1" fill="#b9b9b9" opacity="0.9"/>
<circle cx="382.4" cy="35.3" r="1" fill="#e98a8a" opacity="0.6"/>
<circle cx="194.7" cy="449.4" r="0.9" fill="#e98a8a" opacity="0.7"/>
<circle cx="498.6" cy="36.1" r="1.6" fill="#e07070" opacity="0.8"/>
<circle cx="523.3" cy="449.6" r="1.2" fill="#e98a8a" opacity="0.6"/>
<circle cx="283.6" cy="35.1" r="1.1" fill="#e98a8a" opacity="0.7"/>
<circle cx="214" cy="450.5" r="1.6" fill="#e07070" opacity="0.8"/>
<circle cx="125" cy="35.2" r="1.1" fill="#e98a8a" opacity="0.7"/>
<circle cx="477.9" cy="449.3" r="1.7" fill="#e07070" opacity="0.8"/>
<circle cx="317.9" cy="34.5" r="1.4" fill="#c9c9c9" opacity="0.8"/>
<circle cx="300.5" cy="447.9" r="1.4" fill="#c9c9c9" opacity="0.8"/>
<circle cx="205.6" cy="35.9" r="1" fill="#f0d0d0" opacity="0.7"/>
<circle cx="433.6" cy="449.2" r="1.6" fill="#c9c9c9" opacity="0.8"/>
<circle cx="350.6" cy="36.8" r="1" fill="#b9b9b9" opacity="0.7"/>
<circle cx="145.1" cy="448.1" r="1.6" fill="#e98a8a" opacity="0.6"/>
<circle cx="157.9" cy="34.8" r="1.1" fill="#c9c9c9" opacity="0.7"/>
<circle cx="375.6" cy="447.8" r="1.2" fill="#e98a8a" opacity="0.9"/>
<circle cx="200.6" cy="35.8" r="0.9" fill="#f0d0d0" opacity="0.8"/>
<circle cx="213.9" cy="449.1" r="1.1" fill="#c9c9c9" opacity="0.6"/>
<circle cx="401.2" cy="34.9" r="1.7" fill="#f0d0d0" opacity="0.9"/>
<circle cx="462.3" cy="449.9" r="1.4" fill="#f0d0d0" opacity="0.8"/>
<circle cx="507.7" cy="35.2" r="1.1" fill="#f0d0d0" opacity="0.7"/>
<circle cx="440.8" cy="448.4" r="1.4" fill="#e98a8a" opacity="0.6"/>
<circle cx="163.6" cy="36.9" r="1.2" fill="#f0d0d0" opacity="0.8"/>
<circle cx="231.6" cy="448.6" r="1.2" fill="#f0d0d0" opacity="0.9"/>
<circle cx="395.3" cy="34.8" r="0.9" fill="#c9c9c9" opacity="0.9"/>
<circle cx="285.7" cy="449.4" r="1.1" fill="#e98a8a" opacity="0.5"/>
<circle cx="272.2" cy="34.4" r="1.2" fill="#f0d0d0" opacity="0.7"/>
<circle cx="454.8" cy="448.6" r="1.7" fill="#e98a8a" opacity="0.9"/>
<circle cx="255.9" cy="36.8" r="1.7" fill="#e98a8a" opacity="0.6"/>
<circle cx="240.1" cy="448.2" r="1.4" fill="#e98a8a" opacity="0.9"/>
<circle cx="521.5" cy="36.2" r="1" fill="#e07070" opacity="0.9"/>
<circle cx="458.4" cy="448.4" r="1.4" fill="#e98a8a" opacity="0.7"/>
<circle cx="169.4" cy="35.8" r="1" fill="#f0d0d0" opacity="0.6"/>
<circle cx="417.6" cy="447.8" r="0.9" fill="#c9c9c9" opacity="0.7"/>
<circle cx="308.2" cy="36.8" r="1.1" fill="#c9c9c9" opacity="0.7"/>
<circle cx="126.1" cy="448.9" r="1.7" fill="#e98a8a" opacity="0.7"/>
<circle cx="163.8" cy="35.1" r="1.6" fill="#c9c9c9" opacity="0.7"/>
<circle cx="127.1" cy="447.5" r="1.6" fill="#e07070" opacity="0.9"/>
<circle cx="297" cy="35.1" r="1.3" fill="#b9b9b9" opacity="0.8"/>
<circle cx="200.1" cy="447.6" r="1" fill="#e07070" opacity="0.8"/>
<circle cx="186.8" cy="36.6" r="1.3" fill="#f0d0d0" opacity="0.8"/>
<circle cx="119.1" cy="450" r="1.2" fill="#e98a8a" opacity="0.8"/>
<circle cx="394.4" cy="35.3" r="1.7" fill="#c9c9c9" opacity="0.7"/>
<circle cx="166.8" cy="449.2" r="1.5" fill="#e07070" opacity="0.5"/>
<circle cx="246.8" cy="34.5" r="1.7" fill="#f0d0d0" opacity="0.8"/>
<circle cx="505.9" cy="448.3" r="1.1" fill="#f0d0d0" opacity="0.8"/>
<circle cx="271.4" cy="35.8" r="1.8" fill="#c9c9c9" opacity="0.6"/>
<circle cx="110.5" cy="448" r="1.5" fill="#e98a8a" opacity="0.6"/>
<circle cx="484.4" cy="34.4" r="1" fill="#e98a8a" opacity="0.8"/>
<circle cx="234.4" cy="448.5" r="1.3" fill="#c9c9c9" opacity="0.9"/>
<circle cx="265.4" cy="36.5" r="1.4" fill="#e07070" opacity="0.7"/>
<circle cx="414.8" cy="448.9" r="1.6" fill="#c9c9c9" opacity="0.6"/>
<circle cx="344.9" cy="34.9" r="1.4" fill="#e98a8a" opacity="0.7"/>
<circle cx="353.4" cy="449.9" r="1.1" fill="#b9b9b9" opacity="0.5"/>
<circle cx="394.8" cy="34" r="1.4" fill="#b9b9b9" opacity="0.6"/>
<circle cx="199.6" cy="447.7" r="1.8" fill="#e07070" opacity="0.8"/>
<circle cx="439.1" cy="35.8" r="1.5" fill="#e07070" opacity="0.9"/>
<circle cx="205.6" cy="447.7" r="1.6" fill="#e98a8a" opacity="0.5"/>
<circle cx="305.1" cy="36.4" r="1.3" fill="#c9c9c9" opacity="0.7"/>
<circle cx="505.8" cy="449.5" r="1.4" fill="#b9b9b9" opacity="0.8"/>
<circle cx="242.4" cy="34.8" r="1.5" fill="#e07070" opacity="0.6"/>
<circle cx="345.7" cy="449.6" r="1.8" fill="#e07070" opacity="0.9"/>
<circle cx="302.4" cy="35.6" r="1.3" fill="#f0d0d0" opacity="0.7"/>
<circle cx="332" cy="449.3" r="1.3" fill="#e98a8a" opacity="0.9"/>
<circle cx="483.6" cy="35.6" r="1.2" fill="#e98a8a" opacity="0.5"/>
<circle cx="290.8" cy="450.3" r="1.6" fill="#e98a8a" opacity="0.6"/>
<circle cx="434.4" cy="34.2" r="1.3" fill="#f0d0d0" opacity="0.7"/>
<circle cx="422.5" cy="450.1" r="1" fill="#e98a8a" opacity="0.8"/>
<circle cx="165.8" cy="36.3" r="0.9" fill="#c9c9c9" opacity="0.8"/>
<circle cx="135.4" cy="447.6" r="0.9" fill="#e07070" opacity="0.6"/>
<circle cx="360" cy="36.4" r="1.6" fill="#f0d0d0" opacity="0.6"/>
<circle cx="219.8" cy="448.6" r="1.2" fill="#c9c9c9" opacity="0.9"/>
<circle cx="211.3" cy="36.9" r="1" fill="#b9b9b9" opacity="0.7"/>
<circle cx="127.5" cy="450.1" r="1.6" fill="#e07070" opacity="0.7"/>
<circle cx="440.1" cy="34.7" r="1.2" fill="#c9c9c9" opacity="0.8"/>
<circle cx="305.2" cy="449.5" r="1.5" fill="#b9b9b9" opacity="0.5"/>
<circle cx="122.4" cy="35.4" r="1.2" fill="#e98a8a" opacity="0.9"/>
<circle cx="122.2" cy="448.8" r="1.5" fill="#c9c9c9" opacity="0.9"/>
<circle cx="112" cy="35.9" r="1.4" fill="#c9c9c9" opacity="0.8"/>
<circle cx="507.3" cy="450.3" r="1.3" fill="#c9c9c9" opacity="0.7"/>
<circle cx="205.9" cy="36.1" r="1" fill="#f0d0d0" opacity="0.8"/>
<circle cx="140.3" cy="447.7" r="1" fill="#e07070" opacity="0.7"/>
<circle cx="243.2" cy="36.3" r="0.9" fill="#e07070" opacity="0.6"/>
<circle cx="214.4" cy="449.2" r="1.7" fill="#e07070" opacity="0.5"/>
<circle cx="251.6" cy="36.4" r="1.3" fill="#c9c9c9" opacity="0.8"/>
<circle cx="180.6" cy="449.6" r="1.5" fill="#e98a8a" opacity="0.6"/>
<circle cx="236.7" cy="35.9" r="1" fill="#e07070" opacity="0.6"/>
<circle cx="256.9" cy="448.3" r="1.7" fill="#c9c9c9" opacity="0.5"/>
<circle cx="215.3" cy="34.2" r="1" fill="#f0d0d0" opacity="0.7"/>
<circle cx="110.9" cy="449.3" r="1.2" fill="#e07070" opacity="0.7"/>
<circle cx="168.3" cy="35.2" r="1.1" fill="#e07070" opacity="0.7"/>
<circle cx="321.2" cy="448.3" r="1.3" fill="#e07070" opacity="0.6"/>
<circle cx="421.7" cy="35.4" r="1.7" fill="#e07070" opacity="0.9"/>
<circle cx="435.1" cy="448.1" r="1.5" fill="#f0d0d0" opacity="0.5"/>
<circle cx="123.4" cy="36.4" r="0.9" fill="#b9b9b9" opacity="0.5"/>
<circle cx="117" cy="447.8" r="1" fill="#e98a8a" opacity="0.5"/>
<circle cx="466.2" cy="36.2" r="1.6" fill="#c9c9c9" opacity="0.6"/>
<circle cx="269.9" cy="447.6" r="1.3" fill="#e07070" opacity="0.7"/>
<circle cx="243.1" cy="36.8" r="1.5" fill="#e07070" opacity="0.8"/>
<circle cx="237.6" cy="447.6" r="1.5" fill="#e07070" opacity="0.5"/>
<circle cx="338.5" cy="34.8" r="1.5" fill="#e07070" opacity="0.5"/>
<circle cx="466.1" cy="448.7" r="1" fill="#e07070" opacity="0.6"/>
<circle cx="442.7" cy="34.6" r="1.1" fill="#e07070" opacity="0.6"/>
<circle cx="286.7" cy="447.7" r="1" fill="#c9c9c9" opacity="0.6"/>
<circle cx="455" cy="34.7" r="0.9" fill="#f0d0d0" opacity="0.7"/>
<circle cx="391" cy="448.9" r="1.6" fill="#c9c9c9" opacity="0.9"/>
<circle cx="325.1" cy="36.6" r="1.4" fill="#b9b9b9" opacity="0.9"/>
<circle cx="421.4" cy="449.8" r="1.4" fill="#f0d0d0" opacity="0.5"/>
<circle cx="166.4" cy="34.4" r="1.1" fill="#e98a8a" opacity="0.6"/>
<circle cx="472.2" cy="447.9" r="1.3" fill="#f0d0d0" opacity="0.8"/>
<circle cx="440.9" cy="36.2" r="1.5" fill="#e07070" opacity="0.9"/>
<circle cx="357.9" cy="447.7" r="1.6" fill="#e07070" opacity="0.8"/>
<circle cx="259.9" cy="34.2" r="1.2" fill="#b9b9b9" opacity="0.8"/>
<circle cx="506.1" cy="448.5" r="1.1" fill="#e07070" opacity="0.6"/>
<circle cx="202.3" cy="35.5" r="1.6" fill="#e98a8a" opacity="0.7"/>
<circle cx="347.1" cy="448.9" r="1.3" fill="#c9c9c9" opacity="0.8"/>
<circle cx="182" cy="34.2" r="1.6" fill="#c9c9c9" opacity="0.7"/>
<circle cx="226.4" cy="450.1" r="1.6" fill="#e98a8a" opacity="0.7"/>
<circle cx="163.2" cy="35.4" r="1" fill="#f0d0d0" opacity="0.7"/>
<circle cx="322.7" cy="449.2" r="1.4" fill="#e07070" opacity="0.6"/>
<circle cx="452.7" cy="34.6" r="1.3" fill="#e98a8a" opacity="0.7"/>
<circle cx="289.9" cy="449.5" r="1.6" fill="#b9b9b9" opacity="0.9"/>
<circle cx="417.3" cy="34" r="1" fill="#f0d0d0" opacity="0.7"/>
<circle cx="353.6" cy="448.6" r="1.2" fill="#c9c9c9" opacity="0.8"/>
<circle cx="120.7" cy="34.1" r="1.6" fill="#e07070" opacity="0.8"/>
<circle cx="481.2" cy="448.1" r="1.4" fill="#e07070" opacity="0.8"/>
<circle cx="238.3" cy="35.9" r="1.7" fill="#b9b9b9" opacity="0.9"/>
<circle cx="408.4" cy="448" r="1" fill="#f0d0d0" opacity="0.7"/>
<circle cx="330.8" cy="34.9" r="1.1" fill="#e07070" opacity="0.7"/>
<circle cx="233.8" cy="447.8" r="1.6" fill="#e98a8a" opacity="0.8"/>
<circle cx="170.1" cy="34.5" r="1" fill="#e98a8a" opacity="0.6"/>
<circle cx="231.4" cy="448.1" r="1.6" fill="#f0d0d0" opacity="0.6"/>
<circle cx="289" cy="35.2" r="1.6" fill="#c9c9c9" opacity="0.7"/>
<circle cx="417.9" cy="447.9" r="1.3" fill="#b9b9b9" opacity="0.9"/>
<circle cx="397.6" cy="35.9" r="1.4" fill="#f0d0d0" opacity="0.6"/>
<circle cx="325.5" cy="449.1" r="1.5" fill="#b9b9b9" opacity="0.7"/>
<circle cx="134.1" cy="36.3" r="1.3" fill="#e98a8a" opacity="0.8"/>
<circle cx="280.2" cy="447.6" r="1" fill="#e07070" opacity="0.7"/>
<circle cx="271.1" cy="36.6" r="1.2" fill="#e07070" opacity="0.8"/>
<circle cx="485.5" cy="449.5" r="1.4" fill="#e98a8a" opacity="0.7"/>
<circle cx="308.7" cy="34.7" r="1.4" fill="#b9b9b9" opacity="0.9"/>
<circle cx="473.5" cy="447.9" r="1.4" fill="#c9c9c9" opacity="0.6"/>
<circle cx="261.2" cy="36.3" r="1.3" fill="#c9c9c9" opacity="0.7"/>
<circle cx="272.1" cy="449.9" r="1.7" fill="#e07070" opacity="0.5"/>
<circle cx="108.9" cy="112" r="1.4" fill="#c9c9c9" opacity="0.6"/>
<circle cx="525.4" cy="39.9" r="1.7" fill="#e07070" opacity="0.9"/>
<circle cx="108.8" cy="374.8" r="1.4" fill="#f0d0d0" opacity="0.8"/>
<circle cx="525.5" cy="39.7" r="1.1" fill="#e07070" opacity="0.8"/>
<circle cx="109.1" cy="80.2" r="1.7" fill="#f0d0d0" opacity="0.9"/>
<circle cx="525.2" cy="115.5" r="1.1" fill="#e07070" opacity="0.9"/>
<circle cx="109.7" cy="382.8" r="1.6" fill="#b9b9b9" opacity="0.7"/>
<circle cx="525.5" cy="82.9" r="1.5" fill="#e98a8a" opacity="0.6"/>
<circle cx="108.1" cy="110.9" r="1.3" fill="#e07070" opacity="0.5"/>
<circle cx="526.2" cy="426.3" r="1.7" fill="#c9c9c9" opacity="0.8"/>
<circle cx="108.6" cy="43.1" r="1.6" fill="#e07070" opacity="0.8"/>
<circle cx="526.1" cy="389.1" r="1.7" fill="#c9c9c9" opacity="0.6"/>
<circle cx="110.2" cy="421.6" r="1.5" fill="#e98a8a" opacity="0.7"/>
<circle cx="524.7" cy="399.2" r="1.6" fill="#e07070" opacity="0.6"/>
<circle cx="107.8" cy="445.3" r="1" fill="#b9b9b9" opacity="0.9"/>
<circle cx="525" cy="117.5" r="1.4" fill="#f0d0d0" opacity="0.9"/>
<circle cx="108.7" cy="107.3" r="1.4" fill="#e07070" opacity="0.5"/>
<circle cx="526.7" cy="55.5" r="1.5" fill="#b9b9b9" opacity="0.6"/>
<circle cx="107.9" cy="397.4" r="1.8" fill="#e98a8a" opacity="0.5"/>
<circle cx="524.9" cy="436.2" r="1.7" fill="#e98a8a" opacity="0.7"/>
<circle cx="108.8" cy="432.1" r="1.1" fill="#e07070" opacity="0.8"/>
<circle cx="526.2" cy="114.2" r="1.2" fill="#e98a8a" opacity="0.9"/>
<circle cx="108.9" cy="77.7" r="1.1" fill="#b9b9b9" opacity="0.8"/>
<circle cx="525" cy="59.2" r="0.9" fill="#e98a8a" opacity="0.5"/>
<circle cx="110" cy="417.7" r="1.4" fill="#f0d0d0" opacity="0.5"/>
<circle cx="525.3" cy="437" r="1.3" fill="#f0d0d0" opacity="0.6"/>
<circle cx="108.2" cy="395.3" r="1.2" fill="#c9c9c9" opacity="0.8"/>
<circle cx="526.2" cy="100.8" r="1" fill="#f0d0d0" opacity="0.6"/>
<circle cx="109.2" cy="414.2" r="1.2" fill="#c9c9c9" opacity="0.6"/>
<circle cx="524.9" cy="53.5" r="1.8" fill="#c9c9c9" opacity="0.8"/>
<circle cx="109.3" cy="54.6" r="1" fill="#b9b9b9" opacity="0.7"/>
<circle cx="525.8" cy="355.2" r="1.1" fill="#f0d0d0" opacity="0.5"/>
<circle cx="109.8" cy="411.4" r="1.5" fill="#c9c9c9" opacity="0.6"/>
<circle cx="525.4" cy="103.8" r="1.4" fill="#e07070" opacity="0.8"/>
<circle cx="108.4" cy="37.5" r="1" fill="#c9c9c9" opacity="0.6"/>
<circle cx="525" cy="443.8" r="1" fill="#e98a8a" opacity="0.7"/>
<circle cx="109.5" cy="94.9" r="1.1" fill="#b9b9b9" opacity="0.7"/>
<circle cx="525.9" cy="412.8" r="1.7" fill="#b9b9b9" opacity="0.9"/>
<circle cx="109.1" cy="382.5" r="1.3" fill="#e98a8a" opacity="0.7"/>
<circle cx="524.6" cy="394" r="1.1" fill="#b9b9b9" opacity="0.8"/>
<circle cx="107.9" cy="446.7" r="1.1" fill="#c9c9c9" opacity="0.9"/>
<circle cx="524.1" cy="361.4" r="1.4" fill="#e98a8a" opacity="0.5"/>
<circle cx="108.5" cy="395.4" r="1.4" fill="#e98a8a" opacity="0.6"/>
<circle cx="526.5" cy="100.9" r="1.6" fill="#e98a8a" opacity="0.5"/>
<circle cx="109.3" cy="60.7" r="1.3" fill="#e98a8a" opacity="0.5"/>
<circle cx="526" cy="437.7" r="1.7" fill="#c9c9c9" opacity="0.5"/>
<circle cx="107.6" cy="373.3" r="1.2" fill="#e07070" opacity="0.7"/>
<circle cx="525.4" cy="117.8" r="0.9" fill="#e98a8a" opacity="0.6"/>
<circle cx="109.3" cy="377.8" r="1.7" fill="#c9c9c9" opacity="0.5"/>
<circle cx="526.3" cy="405.6" r="1.7" fill="#e98a8a" opacity="0.7"/>
<circle cx="108.6" cy="424.6" r="0.9" fill="#f0d0d0" opacity="0.5"/>
<circle cx="524.2" cy="377.9" r="1.5" fill="#e07070" opacity="0.7"/>
<circle cx="107.7" cy="61.9" r="1.6" fill="#b9b9b9" opacity="0.7"/>
<circle cx="524.9" cy="404.5" r="0.9" fill="#c9c9c9" opacity="0.7"/>
<circle cx="109.3" cy="412.5" r="1" fill="#e98a8a" opacity="0.7"/>
<circle cx="524.7" cy="70.4" r="1.7" fill="#b9b9b9" opacity="0.5"/>
<circle cx="108.7" cy="57.7" r="1.4" fill="#f0d0d0" opacity="0.9"/>
<circle cx="524.6" cy="390.9" r="1" fill="#e98a8a" opacity="0.6"/>
<circle cx="109.7" cy="83.2" r="1.3" fill="#e07070" opacity="0.5"/>
<circle cx="526.8" cy="89.6" r="1.3" fill="#e07070" opacity="0.6"/>
<circle cx="108.4" cy="76.3" r="1.6" fill="#e07070" opacity="0.8"/>
<circle cx="524.3" cy="426.2" r="1.5" fill="#e07070" opacity="0.9"/>
<circle cx="109.3" cy="106.5" r="1.3" fill="#e98a8a" opacity="0.6"/>
<circle cx="526.8" cy="360.8" r="1.7" fill="#e98a8a" opacity="0.6"/>
<circle cx="107.9" cy="70.9" r="1.2" fill="#c9c9c9" opacity="0.8"/>
<circle cx="526.6" cy="372.6" r="1.3" fill="#b9b9b9" opacity="0.5"/>
<circle cx="110.3" cy="113.6" r="1" fill="#f0d0d0" opacity="0.8"/>
<circle cx="526.6" cy="423.9" r="1.2" fill="#e98a8a" opacity="0.6"/>
<circle cx="109.1" cy="372.9" r="1" fill="#b9b9b9" opacity="0.8"/>
<circle cx="526.1" cy="405.7" r="1.6" fill="#c9c9c9" opacity="0.5"/>
<circle cx="107.9" cy="429.9" r="1.6" fill="#f0d0d0" opacity="0.7"/>
<circle cx="526.5" cy="380.8" r="1.2" fill="#e98a8a" opacity="0.8"/>
<circle cx="109.1" cy="375.2" r="1.3" fill="#c9c9c9" opacity="0.5"/>
<circle cx="525.2" cy="437.9" r="1.3" fill="#e07070" opacity="0.7"/>
<circle cx="108" cy="423.9" r="1.7" fill="#f0d0d0" opacity="0.6"/>
<circle cx="526.8" cy="52.1" r="1.2" fill="#f0d0d0" opacity="0.8"/>
<circle cx="110.3" cy="380.3" r="1" fill="#c9c9c9" opacity="0.8"/>
<circle cx="526.9" cy="447.4" r="1.3" fill="#c9c9c9" opacity="0.7"/>
<circle cx="109.3" cy="92.6" r="1.7" fill="#e98a8a" opacity="0.8"/>
<circle cx="525.5" cy="354.8" r="1.1" fill="#e98a8a" opacity="0.7"/>
<circle cx="108.6" cy="416.5" r="1" fill="#f0d0d0" opacity="0.5"/>
<circle cx="526.7" cy="62.5" r="1.2" fill="#e07070" opacity="0.6"/>
<circle cx="108" cy="379.3" r="1.1" fill="#e98a8a" opacity="0.7"/>
<circle cx="524.2" cy="41.2" r="1.5" fill="#e98a8a" opacity="0.5"/>
<circle cx="110.4" cy="380.7" r="1.2" fill="#e98a8a" opacity="0.8"/>
<circle cx="526.9" cy="429.8" r="1.7" fill="#e07070" opacity="0.6"/>
<circle cx="107.5" cy="86.7" r="1.8" fill="#b9b9b9" opacity="0.8"/>
<circle cx="525.9" cy="75.2" r="1.4" fill="#e98a8a" opacity="0.6"/>
<circle cx="109.5" cy="55.6" r="1.7" fill="#b9b9b9" opacity="0.8"/>
<circle cx="524.3" cy="400.2" r="1.6" fill="#e07070" opacity="0.6"/>
<circle cx="110" cy="85.9" r="1.5" fill="#e98a8a" opacity="0.7"/>
<circle cx="525.9" cy="91.7" r="1.7" fill="#b9b9b9" opacity="0.7"/>
<circle cx="108" cy="397.2" r="1.8" fill="#b9b9b9" opacity="0.7"/>
<circle cx="526.6" cy="91.8" r="1.1" fill="#e07070" opacity="0.7"/>
<circle cx="108" cy="409" r="0.9" fill="#b9b9b9" opacity="0.6"/>
<circle cx="525.5" cy="404" r="1.2" fill="#c9c9c9" opacity="0.7"/>
<circle cx="107.9" cy="445.7" r="1.8" fill="#c9c9c9" opacity="0.6"/>
<circle cx="525.6" cy="430.7" r="1.4" fill="#f0d0d0" opacity="0.6"/>
<circle cx="109.6" cy="432.7" r="1" fill="#f0d0d0" opacity="0.7"/>
<circle cx="525.6" cy="389.6" r="1" fill="#b9b9b9" opacity="0.7"/>
<path d="M368.8 195.8C339 195.8 321.7 210.5 321.7 243C321.7 266 333 280 350 287.6" fill="none" stroke="#000" stroke-width="7.3"/>
<path d="M346.5 280L372 289.5L346.1 298.5L349.2 290.6Z" fill="#000"/>
<text transform="translate(185.19,245) scale(1.1598,1)" font-size="19.18" font-weight="bold" stroke="#000" stroke-width="0.6">Cholesterol</text>
<text transform="translate(205.22,263.9) scale(1.1736,1)" font-size="19.18" font-weight="bold" stroke="#000" stroke-width="0.6">flip-flop</text>
<rect x="807.8" y="53" width="531.2" height="344.4" fill="none" stroke="#000" stroke-width="1.4"/>
<line x1="832" y1="397.4" x2="832" y2="403" stroke="#000" stroke-width="1.4"/>
<text transform="translate(810.05,430.65) scale(1.0229,1)" font-size="31">3.8</text>
<line x1="900.95" y1="397.4" x2="900.95" y2="403" stroke="#000" stroke-width="1.4"/>
<text transform="translate(879.05,430.65) scale(1.0283,1)" font-size="31">4.0</text>
<line x1="969.9" y1="397.4" x2="969.9" y2="403" stroke="#000" stroke-width="1.4"/>
<text transform="translate(948.49,430.65) scale(1.0133,1)" font-size="31">4.2</text>
<line x1="1038.85" y1="397.4" x2="1038.85" y2="403" stroke="#000" stroke-width="1.4"/>
<text transform="translate(1016.8,430.65) scale(1.0278,1)" font-size="31">4.4</text>
<line x1="1107.8" y1="397.4" x2="1107.8" y2="403" stroke="#000" stroke-width="1.4"/>
<text transform="translate(1085.85,430.65) scale(1.0344,1)" font-size="31">4.6</text>
<line x1="1176.75" y1="397.4" x2="1176.75" y2="403" stroke="#000" stroke-width="1.4"/>
<text transform="translate(1154.88,430.65) scale(1.0303,1)" font-size="31">4.8</text>
<line x1="1245.7" y1="397.4" x2="1245.7" y2="403" stroke="#000" stroke-width="1.4"/>
<text transform="translate(1223.67,430.65) scale(1.0217,1)" font-size="31">5.0</text>
<line x1="1314.65" y1="397.4" x2="1314.65" y2="403" stroke="#000" stroke-width="1.4"/>
<text transform="translate(1293.12,430.65) scale(1.0065,1)" font-size="31">5.2</text>
<line x1="807.8" y1="389.8" x2="802.2" y2="389.8" stroke="#000" stroke-width="1.4"/>
<text transform="translate(752.01,401.3) scale(1.0288,1)" font-size="31">0.0</text>
<line x1="807.8" y1="314.93" x2="802.2" y2="314.93" stroke="#000" stroke-width="1.4"/>
<text transform="translate(752.99,326.43) scale(1.0137,1)" font-size="31">0.2</text>
<line x1="807.8" y1="240.05" x2="802.2" y2="240.05" stroke="#000" stroke-width="1.4"/>
<text transform="translate(751.72,251.55) scale(1.0284,1)" font-size="31">0.4</text>
<line x1="807.8" y1="165.18" x2="802.2" y2="165.18" stroke="#000" stroke-width="1.4"/>
<text transform="translate(751.9,176.68) scale(1.0351,1)" font-size="31">0.6</text>
<line x1="807.8" y1="90.3" x2="802.2" y2="90.3" stroke="#000" stroke-width="1.4"/>
<text transform="translate(752.06,101.8) scale(1.0309,1)" font-size="31">0.8</text>
<clipPath id="cB"><rect x="807.8" y="53.0" width="531.2" height="344.4"/></clipPath>
<g clip-path="url(#cB)">
<circle cx="864.8" cy="115.6" r="3.1" fill="#1f77b4"/>
<circle cx="885" cy="149.2" r="3.1" fill="#1f77b4"/>
<circle cx="867.7" cy="189.4" r="3.1" fill="#1f77b4"/>
<circle cx="867.7" cy="215.9" r="3.1" fill="#1f77b4"/>
<circle cx="993" cy="219.8" r="3.1" fill="#1f77b4"/>
<circle cx="885.2" cy="242.7" r="3.1" fill="#1f77b4"/>
<circle cx="864.8" cy="282.8" r="3.1" fill="#1f77b4"/>
<circle cx="864.8" cy="303" r="3.1" fill="#1f77b4"/>
<circle cx="975.7" cy="287.6" r="3.1" fill="#1f77b4"/>
<circle cx="945.6" cy="319.7" r="3.1" fill="#1f77b4"/>
<circle cx="867.7" cy="336.4" r="3.1" fill="#1f77b4"/>
<circle cx="923.3" cy="336.4" r="3.1" fill="#1f77b4"/>
<circle cx="943.9" cy="336.4" r="3.1" fill="#1f77b4"/>
<circle cx="971.8" cy="335.8" r="3.1" fill="#1f77b4"/>
<circle cx="974.8" cy="343" r="3.1" fill="#1f77b4"/>
<circle cx="907.1" cy="349.6" r="3.1" fill="#1f77b4"/>
<circle cx="909.5" cy="358.6" r="3.1" fill="#1f77b4"/>
<circle cx="945.6" cy="354.5" r="3.1" fill="#1f77b4"/>
<circle cx="1002" cy="354.5" r="3.1" fill="#1f77b4"/>
<circle cx="1002" cy="366.4" r="3.1" fill="#1f77b4"/>
<circle cx="888.9" cy="369.7" r="3.1" fill="#1f77b4"/>
<circle cx="892.7" cy="376.5" r="3.1" fill="#1f77b4"/>
<circle cx="952.8" cy="373" r="3.1" fill="#1f77b4"/>
<circle cx="951.4" cy="376.5" r="3.1" fill="#1f77b4"/>
<circle cx="952.6" cy="384.8" r="3.1" fill="#1f77b4"/>
<circle cx="988.4" cy="388.3" r="3.1" fill="#1f77b4"/>
<circle cx="1038.1" cy="277.5" r="3.1" fill="#1f77b4"/>
<circle cx="1035.6" cy="304.9" r="3.1" fill="#1f77b4"/>
<circle cx="1054" cy="302.6" r="3.1" fill="#1f77b4"/>
<circle cx="1042.4" cy="330" r="3.1" fill="#1f77b4"/>
<circle cx="1038.1" cy="352.6" r="3.1" fill="#1f77b4"/>
<circle cx="1025.9" cy="355.7" r="3.1" fill="#1f77b4"/>
<circle cx="1018.5" cy="364.6" r="3.1" fill="#1f77b4"/>
<circle cx="1013.2" cy="369.3" r="3.1" fill="#1f77b4"/>
<circle cx="1022.5" cy="376.5" r="3.1" fill="#1f77b4"/>
<circle cx="1050.1" cy="378.4" r="3.1" fill="#1f77b4"/>
<circle cx="1050.1" cy="382.9" r="3.1" fill="#1f77b4"/>
<circle cx="1056" cy="375.5" r="3.1" fill="#1f77b4"/>
<circle cx="1056" cy="380.5" r="3.1" fill="#1f77b4"/>
<circle cx="1076.4" cy="378" r="3.1" fill="#1f77b4"/>
<circle cx="1084.9" cy="358.6" r="3.1" fill="#1f77b4"/>
<circle cx="1086.9" cy="376.9" r="3.1" fill="#1f77b4"/>
<circle cx="1091.9" cy="317.8" r="3.1" fill="#1f77b4"/>
<circle cx="1094.3" cy="363.8" r="3.1" fill="#1f77b4"/>
<circle cx="1097.2" cy="368.1" r="3.1" fill="#1f77b4"/>
<circle cx="1094.5" cy="378" r="3.1" fill="#1f77b4"/>
<circle cx="1092.7" cy="386.2" r="3.1" fill="#1f77b4"/>
<circle cx="1101.1" cy="333.1" r="3.1" fill="#1f77b4"/>
<circle cx="1104.8" cy="352.6" r="3.1" fill="#1f77b4"/>
<circle cx="1101.1" cy="381.3" r="3.1" fill="#1f77b4"/>
<circle cx="1111" cy="378.8" r="3.1" fill="#1f77b4"/>
<circle cx="1116.6" cy="347.3" r="3.1" fill="#1f77b4"/>
<circle cx="1119.1" cy="374.1" r="3.1" fill="#1f77b4"/>
<circle cx="1124.8" cy="302.8" r="3.1" fill="#1f77b4"/>
<circle cx="1130.8" cy="339.9" r="3.1" fill="#1f77b4"/>
<circle cx="1130.2" cy="368.7" r="3.1" fill="#1f77b4"/>
<circle cx="1132" cy="374.1" r="3.1" fill="#1f77b4"/>
<circle cx="1123" cy="389.5" r="3.1" fill="#1f77b4"/>
<circle cx="1127.9" cy="389.9" r="3.1" fill="#1f77b4"/>
<circle cx="1134.7" cy="389.9" r="3.1" fill="#1f77b4"/>
<circle cx="1142.3" cy="382.7" r="3.1" fill="#1f77b4"/>
<circle cx="1153" cy="384.6" r="3.1" fill="#1f77b4"/>
<circle cx="1159.4" cy="363.8" r="3.1" fill="#1f77b4"/>
<circle cx="1160.7" cy="372" r="3.1" fill="#1f77b4"/>
<circle cx="1155.5" cy="375.5" r="3.1" fill="#1f77b4"/>
<circle cx="1160.7" cy="375.5" r="3.1" fill="#1f77b4"/>
<circle cx="1159" cy="390.3" r="3.1" fill="#1f77b4"/>
<circle cx="1163.8" cy="388.1" r="3.1" fill="#1f77b4"/>
<circle cx="1175.9" cy="387.5" r="3.1" fill="#1f77b4"/>
<circle cx="1177.5" cy="387.6" r="3.1" fill="#1f77b4"/>
<circle cx="1187.2" cy="359.9" r="3.1" fill="#1f77b4"/>
<circle cx="1188.5" cy="388.1" r="3.1" fill="#1f77b4"/>
<circle cx="1210" cy="386.9" r="3.1" fill="#1f77b4"/>
<circle cx="1218.7" cy="386.9" r="3.1" fill="#1f77b4"/>
<line x1="832" y1="50" x2="832" y2="186.1" stroke="#000" stroke-width="2.1"/>
<line x1="900.95" y1="274.8" x2="900.95" y2="325" stroke="#000" stroke-width="2.1"/>
<line x1="969.9" y1="340.9" x2="969.9" y2="359.6" stroke="#000" stroke-width="2.1"/>
<circle cx="832" cy="89.5" r="6.6" fill="#000"/>
<circle cx="900.95" cy="299.7" r="6.6" fill="#000"/>
<circle cx="969.9" cy="350.2" r="6.6" fill="#000"/>
<circle cx="1038.85" cy="365.4" r="6.6" fill="#000"/>
<circle cx="1107.8" cy="369.7" r="6.6" fill="#000"/>
<circle cx="1176.75" cy="379" r="6.6" fill="#000"/>
<circle cx="1245.7" cy="386.9" r="6.6" fill="#000"/>
<circle cx="1314.65" cy="389.7" r="6.6" fill="#000"/>
</g>
<text transform="translate(737.4,0) rotate(-90) translate(-419.55,0) scale(1.0480,1)" font-size="31">Cholesterol flip flops</text>
<text transform="translate(737.4,0) rotate(-90) translate(-119.09,0) scale(1.1000,1)" font-size="31">(</text>
<text transform="translate(737.4,0) rotate(-90) translate(-105.59,0) scale(0.9396,1)" font-size="31" font-style="italic">μ</text>
<text transform="translate(737.4,0) rotate(-90) translate(-89,0) scale(0.9322,1)" font-size="31">s</text>
<text transform="translate(726.7,0) rotate(-90) translate(-72.98,0) scale(1.1951,1)" font-size="21.7">−</text>
<text transform="translate(726.7,0) rotate(-90) translate(-56.24,0) scale(0.9299,1)" font-size="21.7">1</text>
<text transform="translate(737.4,0) rotate(-90) translate(-42.42,0) scale(1.1000,1)" font-size="31">)</text>
<text transform="translate(964.08,464.4) scale(1.0313,1)" font-size="31">Thickness (nm)</text>
<text transform="translate(804.92,34.6) scale(0.9734,1)" font-size="36.56" font-weight="bold" stroke="#000" stroke-width="0.6">B</text>
<text transform="translate(833.86,32.66) scale(1.0974,1)" font-size="33.9" font-weight="bold" stroke="#000" stroke-width="0.6">)</text>
<rect x="96.2" y="503.9" width="530.8" height="344.4" fill="none" stroke="#000" stroke-width="1.4"/>
<line x1="120.2" y1="848.3" x2="120.2" y2="853.9" stroke="#000" stroke-width="1.4"/>
<text transform="translate(102.87,882.1) scale(1.0201,1)" font-size="31">40</text>
<line x1="194.48" y1="848.3" x2="194.48" y2="853.9" stroke="#000" stroke-width="1.4"/>
<text transform="translate(177.46,882.1) scale(1.0044,1)" font-size="31">45</text>
<line x1="268.77" y1="848.3" x2="268.77" y2="853.9" stroke="#000" stroke-width="1.4"/>
<text transform="translate(251.31,882.1) scale(1.0116,1)" font-size="31">50</text>
<line x1="343.05" y1="848.3" x2="343.05" y2="853.9" stroke="#000" stroke-width="1.4"/>
<text transform="translate(325.91,882.1) scale(0.9956,1)" font-size="31">55</text>
<line x1="417.33" y1="848.3" x2="417.33" y2="853.9" stroke="#000" stroke-width="1.4"/>
<text transform="translate(399.41,882.1) scale(1.0288,1)" font-size="31">60</text>
<line x1="491.62" y1="848.3" x2="491.62" y2="853.9" stroke="#000" stroke-width="1.4"/>
<text transform="translate(474.02,882.1) scale(1.0127,1)" font-size="31">65</text>
<line x1="565.9" y1="848.3" x2="565.9" y2="853.9" stroke="#000" stroke-width="1.4"/>
<text transform="translate(548.15,882.1) scale(1.0183,1)" font-size="31">70</text>
<line x1="96.2" y1="837.4" x2="90.6" y2="837.4" stroke="#000" stroke-width="1.4"/>
<text transform="translate(40.31,848.9) scale(1.0288,1)" font-size="31">0.0</text>
<line x1="96.2" y1="781.82" x2="90.6" y2="781.82" stroke="#000" stroke-width="1.4"/>
<text transform="translate(41.06,793.32) scale(1.0181,1)" font-size="31">0.1</text>
<line x1="96.2" y1="726.24" x2="90.6" y2="726.24" stroke="#000" stroke-width="1.4"/>
<text transform="translate(41.29,737.74) scale(1.0137,1)" font-size="31">0.2</text>
<line x1="96.2" y1="670.66" x2="90.6" y2="670.66" stroke="#000" stroke-width="1.4"/>
<text transform="translate(40.71,682.16) scale(1.0230,1)" font-size="31">0.3</text>
<line x1="96.2" y1="615.08" x2="90.6" y2="615.08" stroke="#000" stroke-width="1.4"/>
<text transform="translate(40.02,626.58) scale(1.0284,1)" font-size="31">0.4</text>
<line x1="96.2" y1="559.5" x2="90.6" y2="559.5" stroke="#000" stroke-width="1.4"/>
<text transform="translate(40.93,571) scale(1.0163,1)" font-size="31">0.5</text>
<line x1="96.2" y1="503.92" x2="90.6" y2="503.92" stroke="#000" stroke-width="1.4"/>
<text transform="translate(40.2,515.42) scale(1.0351,1)" font-size="31">0.6</text>
<clipPath id="cC"><rect x="96.2" y="503.9" width="530.8" height="344.4"/></clipPath>
<g clip-path="url(#cC)">
<circle cx="149.8" cy="836.8" r="3.1" fill="#1f77b4"/>
<circle cx="151.8" cy="834.2" r="3.1" fill="#1f77b4"/>
<circle cx="154.9" cy="831.7" r="3.1" fill="#1f77b4"/>
<circle cx="169.3" cy="818.1" r="3.1" fill="#1f77b4"/>
<circle cx="178.4" cy="833.7" r="3.1" fill="#1f77b4"/>
<circle cx="190.8" cy="837.2" r="3.1" fill="#1f77b4"/>
<circle cx="196.3" cy="832.5" r="3.1" fill="#1f77b4"/>
<circle cx="211.6" cy="811.3" r="3.1" fill="#1f77b4"/>
<circle cx="216.7" cy="815.8" r="3.1" fill="#1f77b4"/>
<circle cx="222.3" cy="837.2" r="3.1" fill="#1f77b4"/>
<circle cx="228.9" cy="837.2" r="3.1" fill="#1f77b4"/>
<circle cx="226.6" cy="815.8" r="3.1" fill="#1f77b4"/>
<circle cx="238.1" cy="819.7" r="3.1" fill="#1f77b4"/>
<circle cx="241.6" cy="708.1" r="3.1" fill="#1f77b4"/>
<circle cx="233" cy="829" r="3.1" fill="#1f77b4"/>
<circle cx="235.5" cy="826.5" r="3.1" fill="#1f77b4"/>
<circle cx="237.3" cy="825" r="3.1" fill="#1f77b4"/>
<circle cx="237.9" cy="832.9" r="3.1" fill="#1f77b4"/>
<circle cx="234.5" cy="830" r="3.1" fill="#1f77b4"/>
<circle cx="246.6" cy="792.8" r="3.1" fill="#1f77b4"/>
<circle cx="247" cy="804.9" r="3.1" fill="#1f77b4"/>
<circle cx="252.3" cy="798.3" r="3.1" fill="#1f77b4"/>
<circle cx="265.7" cy="798.3" r="3.1" fill="#1f77b4"/>
<circle cx="264.1" cy="829.6" r="3.1" fill="#1f77b4"/>
<circle cx="279.1" cy="763.3" r="3.1" fill="#1f77b4"/>
<circle cx="282.6" cy="774.2" r="3.1" fill="#1f77b4"/>
<circle cx="291.7" cy="781.8" r="3.1" fill="#1f77b4"/>
<circle cx="279.7" cy="814.2" r="3.1" fill="#1f77b4"/>
<circle cx="282.6" cy="816.4" r="3.1" fill="#1f77b4"/>
<circle cx="283" cy="815" r="3.1" fill="#1f77b4"/>
<circle cx="282.6" cy="823.5" r="3.1" fill="#1f77b4"/>
<circle cx="285.9" cy="837.2" r="3.1" fill="#1f77b4"/>
<circle cx="322.3" cy="671" r="3.1" fill="#1f77b4"/>
<circle cx="419.8" cy="685.5" r="3.1" fill="#1f77b4"/>
<circle cx="340" cy="707.5" r="3.1" fill="#1f77b4"/>
<circle cx="400.8" cy="710.8" r="3.1" fill="#1f77b4"/>
<circle cx="323.4" cy="730.4" r="3.1" fill="#1f77b4"/>
<circle cx="330.2" cy="748.3" r="3.1" fill="#1f77b4"/>
<circle cx="343.3" cy="753" r="3.1" fill="#1f77b4"/>
<circle cx="486.9" cy="733.2" r="3.1" fill="#1f77b4"/>
<circle cx="323.6" cy="781.6" r="3.1" fill="#1f77b4"/>
<circle cx="321.9" cy="790.9" r="3.1" fill="#1f77b4"/>
<circle cx="350.3" cy="799.6" r="3.1" fill="#1f77b4"/>
<circle cx="352" cy="805.7" r="3.1" fill="#1f77b4"/>
<circle cx="339.8" cy="812.5" r="3.1" fill="#1f77b4"/>
<circle cx="300.3" cy="819.7" r="3.1" fill="#1f77b4"/>
<circle cx="330.4" cy="824.7" r="3.1" fill="#1f77b4"/>
<circle cx="339" cy="824.7" r="3.1" fill="#1f77b4"/>
<circle cx="350.8" cy="835" r="3.1" fill="#1f77b4"/>
<circle cx="378.2" cy="807" r="3.1" fill="#1f77b4"/>
<circle cx="401" cy="786.6" r="3.1" fill="#1f77b4"/>
<circle cx="412.1" cy="790.9" r="3.1" fill="#1f77b4"/>
<circle cx="417.3" cy="785.1" r="3.1" fill="#1f77b4"/>
<circle cx="419.8" cy="802.6" r="3.1" fill="#1f77b4"/>
<circle cx="487.9" cy="767.8" r="3.1" fill="#1f77b4"/>
<circle cx="487.9" cy="785.1" r="3.1" fill="#1f77b4"/>
<circle cx="477" cy="817.3" r="3.1" fill="#1f77b4"/>
<circle cx="556.8" cy="678.5" r="3.1" fill="#1f77b4"/>
<circle cx="570.6" cy="708" r="3.1" fill="#1f77b4"/>
<circle cx="512.1" cy="757.6" r="3.1" fill="#1f77b4"/>
<circle cx="521.9" cy="757.6" r="3.1" fill="#1f77b4"/>
<circle cx="555.9" cy="757.6" r="3.1" fill="#1f77b4"/>
<circle cx="495.8" cy="777.4" r="3.1" fill="#1f77b4"/>
<circle cx="542" cy="807.3" r="3.1" fill="#1f77b4"/>
<circle cx="542" cy="817.2" r="3.1" fill="#1f77b4"/>
<circle cx="404.9" cy="584.8" r="3.1" fill="#1f77b4"/>
<circle cx="413" cy="584.8" r="3.1" fill="#1f77b4"/>
<circle cx="571.5" cy="539.7" r="3.1" fill="#1f77b4"/>
<circle cx="584.5" cy="579.6" r="3.1" fill="#1f77b4"/>
<line x1="343.05" y1="792.1" x2="343.05" y2="809.2" stroke="#000" stroke-width="2.1"/>
<line x1="417.3" y1="739" x2="417.3" y2="777.9" stroke="#000" stroke-width="2.1"/>
<line x1="491.6" y1="732.9" x2="491.6" y2="771" stroke="#000" stroke-width="2.1"/>
<line x1="565.9" y1="500" x2="565.9" y2="607.8" stroke="#000" stroke-width="2.1"/>
<circle cx="120.2" cy="834.8" r="6.6" fill="#000"/>
<circle cx="194.5" cy="823.9" r="6.6" fill="#000"/>
<circle cx="268.8" cy="813.1" r="6.6" fill="#000"/>
<circle cx="343.05" cy="800.8" r="6.6" fill="#000"/>
<circle cx="417.3" cy="758.6" r="6.6" fill="#000"/>
<circle cx="491.6" cy="752" r="6.6" fill="#000"/>
<circle cx="565.9" cy="519.6" r="6.6" fill="#000"/>
</g>
<text transform="translate(25.6,0) rotate(-90) translate(-870.65,0) scale(1.0480,1)" font-size="31">Cholesterol flip flops</text>
<text transform="translate(25.6,0) rotate(-90) translate(-570.19,0) scale(1.1000,1)" font-size="31">(</text>
<text transform="translate(25.6,0) rotate(-90) translate(-556.69,0) scale(0.9396,1)" font-size="31" font-style="italic">μ</text>
<text transform="translate(25.6,0) rotate(-90) translate(-540.1,0) scale(0.9322,1)" font-size="31">s</text>
<text transform="translate(14.9,0) rotate(-90) translate(-524.08,0) scale(1.1951,1)" font-size="21.7">−</text>
<text transform="translate(14.9,0) rotate(-90) translate(-507.34,0) scale(0.9299,1)" font-size="21.7">1</text>
<text transform="translate(25.6,0) rotate(-90) translate(-493.52,0) scale(1.1000,1)" font-size="31">)</text>
<text transform="translate(234.84,920.4) scale(1.0443,1)" font-size="31">Area per lipid (Å²)</text>
<text transform="translate(94.71,489.63) scale(0.8930,1)" font-size="37.85" font-weight="bold" stroke="#000" stroke-width="0.6">C</text>
<text transform="translate(122.76,486.88) scale(1.0938,1)" font-size="33.36" font-weight="bold" stroke="#000" stroke-width="0.6">)</text>
<rect x="814.1" y="506" width="530.9" height="344.3" fill="none" stroke="#000" stroke-width="1.4"/>
<line x1="870.8" y1="850.3" x2="870.8" y2="855.9" stroke="#000" stroke-width="1.4"/>
<text transform="translate(839.8,884.3) scale(1.0291,1)" font-size="31">0.05</text>
<line x1="945.8" y1="850.3" x2="945.8" y2="855.9" stroke="#000" stroke-width="1.4"/>
<text transform="translate(914.49,884.3) scale(1.0378,1)" font-size="31">0.10</text>
<line x1="1020.8" y1="850.3" x2="1020.8" y2="855.9" stroke="#000" stroke-width="1.4"/>
<text transform="translate(989.8,884.3) scale(1.0291,1)" font-size="31">0.15</text>
<line x1="1095.8" y1="850.3" x2="1095.8" y2="855.9" stroke="#000" stroke-width="1.4"/>
<text transform="translate(1064.49,884.3) scale(1.0378,1)" font-size="31">0.20</text>
<line x1="1170.8" y1="850.3" x2="1170.8" y2="855.9" stroke="#000" stroke-width="1.4"/>
<text transform="translate(1139.8,884.3) scale(1.0291,1)" font-size="31">0.25</text>
<line x1="1245.8" y1="850.3" x2="1245.8" y2="855.9" stroke="#000" stroke-width="1.4"/>
<text transform="translate(1214.49,884.3) scale(1.0378,1)" font-size="31">0.30</text>
<line x1="1320.8" y1="850.3" x2="1320.8" y2="855.9" stroke="#000" stroke-width="1.4"/>
<text transform="translate(1289.8,884.3) scale(1.0291,1)" font-size="31">0.35</text>
<line x1="814.1" y1="839.4" x2="808.5" y2="839.4" stroke="#000" stroke-width="1.4"/>
<text transform="translate(758.31,850.9) scale(1.0288,1)" font-size="31">0.0</text>
<line x1="814.1" y1="783.83" x2="808.5" y2="783.83" stroke="#000" stroke-width="1.4"/>
<text transform="translate(759.06,795.33) scale(1.0181,1)" font-size="31">0.1</text>
<line x1="814.1" y1="728.26" x2="808.5" y2="728.26" stroke="#000" stroke-width="1.4"/>
<text transform="translate(759.29,739.76) scale(1.0137,1)" font-size="31">0.2</text>
<line x1="814.1" y1="672.69" x2="808.5" y2="672.69" stroke="#000" stroke-width="1.4"/>
<text transform="translate(758.71,684.19) scale(1.0230,1)" font-size="31">0.3</text>
<line x1="814.1" y1="617.12" x2="808.5" y2="617.12" stroke="#000" stroke-width="1.4"/>
<text transform="translate(758.02,628.62) scale(1.0284,1)" font-size="31">0.4</text>
<line x1="814.1" y1="561.55" x2="808.5" y2="561.55" stroke="#000" stroke-width="1.4"/>
<text transform="translate(758.93,573.05) scale(1.0163,1)" font-size="31">0.5</text>
<line x1="814.1" y1="505.98" x2="808.5" y2="505.98" stroke="#000" stroke-width="1.4"/>
<text transform="translate(758.2,517.48) scale(1.0351,1)" font-size="31">0.6</text>
<clipPath id="cD"><rect x="814.1" y="506.0" width="530.9" height="344.29999999999995"/></clipPath>
<g clip-path="url(#cD)">
<circle cx="863.7" cy="680.5" r="3.1" fill="#1f77b4"/>
<circle cx="862.1" cy="710.4" r="3.1" fill="#1f77b4"/>
<circle cx="864.6" cy="759.9" r="3.1" fill="#1f77b4"/>
<circle cx="912" cy="759.9" r="3.1" fill="#1f77b4"/>
<circle cx="923" cy="759.9" r="3.1" fill="#1f77b4"/>
<circle cx="940.8" cy="779.8" r="3.1" fill="#1f77b4"/>
<circle cx="970.1" cy="735.2" r="3.1" fill="#1f77b4"/>
<circle cx="989.5" cy="759.1" r="3.1" fill="#1f77b4"/>
<circle cx="973.2" cy="769.8" r="3.1" fill="#1f77b4"/>
<circle cx="971.5" cy="787" r="3.1" fill="#1f77b4"/>
<circle cx="991.2" cy="787" r="3.1" fill="#1f77b4"/>
<circle cx="992.7" cy="804.5" r="3.1" fill="#1f77b4"/>
<circle cx="1013" cy="802" r="3.1" fill="#1f77b4"/>
<circle cx="1010.9" cy="687.6" r="3.1" fill="#1f77b4"/>
<circle cx="878.7" cy="792.8" r="3.1" fill="#1f77b4"/>
<circle cx="865.2" cy="809.2" r="3.1" fill="#1f77b4"/>
<circle cx="866.2" cy="819.4" r="3.1" fill="#1f77b4"/>
<circle cx="889.2" cy="814.4" r="3.1" fill="#1f77b4"/>
<circle cx="903.7" cy="831.4" r="3.1" fill="#1f77b4"/>
<circle cx="963.4" cy="819.4" r="3.1" fill="#1f77b4"/>
<circle cx="1059.5" cy="672.8" r="3.1" fill="#1f77b4"/>
<circle cx="1037.7" cy="713.1" r="3.1" fill="#1f77b4"/>
<circle cx="1091.4" cy="709.7" r="3.1" fill="#1f77b4"/>
<circle cx="1115.2" cy="710.2" r="3.1" fill="#1f77b4"/>
<circle cx="1086.2" cy="732.5" r="3.1" fill="#1f77b4"/>
<circle cx="1054.3" cy="750.4" r="3.1" fill="#1f77b4"/>
<circle cx="1063" cy="755.1" r="3.1" fill="#1f77b4"/>
<circle cx="1098.7" cy="765.3" r="3.1" fill="#1f77b4"/>
<circle cx="1138.9" cy="776.1" r="3.1" fill="#1f77b4"/>
<circle cx="1021.8" cy="808.8" r="3.1" fill="#1f77b4"/>
<circle cx="1038.8" cy="788.7" r="3.1" fill="#1f77b4"/>
<circle cx="1058.7" cy="783.7" r="3.1" fill="#1f77b4"/>
<circle cx="1087.3" cy="783.7" r="3.1" fill="#1f77b4"/>
<circle cx="1112.7" cy="792.8" r="3.1" fill="#1f77b4"/>
<circle cx="1103.8" cy="800.5" r="3.1" fill="#1f77b4"/>
<circle cx="1114.4" cy="800.5" r="3.1" fill="#1f77b4"/>
<circle cx="1108.2" cy="806.9" r="3.1" fill="#1f77b4"/>
<circle cx="1068" cy="807.6" r="3.1" fill="#1f77b4"/>
<circle cx="1041.9" cy="819.2" r="3.1" fill="#1f77b4"/>
<circle cx="1044.6" cy="818.5" r="3.1" fill="#1f77b4"/>
<circle cx="1048.9" cy="825.2" r="3.1" fill="#1f77b4"/>
<circle cx="1064.7" cy="821.2" r="3.1" fill="#1f77b4"/>
<circle cx="1066.8" cy="821.7" r="3.1" fill="#1f77b4"/>
<circle cx="1065.9" cy="826.8" r="3.1" fill="#1f77b4"/>
<circle cx="1072.7" cy="829.3" r="3.1" fill="#1f77b4"/>
<circle cx="1041.9" cy="837" r="3.1" fill="#1f77b4"/>
<circle cx="1091" cy="826.6" r="3.1" fill="#1f77b4"/>
<circle cx="1105.7" cy="839.3" r="3.1" fill="#1f77b4"/>
<circle cx="1112.7" cy="828.3" r="3.1" fill="#1f77b4"/>
<circle cx="1111.3" cy="831.6" r="3.1" fill="#1f77b4"/>
<circle cx="1123.5" cy="817.9" r="3.1" fill="#1f77b4"/>
<circle cx="1130" cy="839.3" r="3.1" fill="#1f77b4"/>
<circle cx="1136.4" cy="839.3" r="3.1" fill="#1f77b4"/>
<circle cx="1145.1" cy="817.9" r="3.1" fill="#1f77b4"/>
<circle cx="1151.5" cy="813.4" r="3.1" fill="#1f77b4"/>
<circle cx="1150.1" cy="822.7" r="3.1" fill="#1f77b4"/>
<circle cx="1158.5" cy="820.2" r="3.1" fill="#1f77b4"/>
<circle cx="1155.9" cy="836" r="3.1" fill="#1f77b4"/>
<circle cx="1158.5" cy="836" r="3.1" fill="#1f77b4"/>
<circle cx="1172.4" cy="836.8" r="3.1" fill="#1f77b4"/>
<circle cx="1174.5" cy="838.7" r="3.1" fill="#1f77b4"/>
<circle cx="1177.8" cy="833.7" r="3.1" fill="#1f77b4"/>
<circle cx="1190.1" cy="795.1" r="3.1" fill="#1f77b4"/>
<circle cx="1213.4" cy="836.8" r="3.1" fill="#1f77b4"/>
<circle cx="1222.8" cy="834.7" r="3.1" fill="#1f77b4"/>
<circle cx="1238.7" cy="834.7" r="3.1" fill="#1f77b4"/>
<circle cx="1292.1" cy="839.2" r="3.1" fill="#1f77b4"/>
<circle cx="862.8" cy="541.6" r="3.1" fill="#1f77b4"/>
<circle cx="861.2" cy="581.3" r="3.1" fill="#1f77b4"/>
<circle cx="870.3" cy="621.1" r="3.1" fill="#1f77b4"/>
<circle cx="1014.8" cy="586.9" r="3.1" fill="#1f77b4"/>
<circle cx="1017.2" cy="586.9" r="3.1" fill="#1f77b4"/>
<line x1="870.8" y1="500" x2="870.8" y2="643.1" stroke="#000" stroke-width="2.1"/>
<line x1="945.8" y1="763.6" x2="945.8" y2="782.3" stroke="#000" stroke-width="2.1"/>
<line x1="1020.8" y1="777.1" x2="1020.8" y2="802" stroke="#000" stroke-width="2.1"/>
<circle cx="870.8" cy="570.2" r="6.6" fill="#000"/>
<circle cx="945.8" cy="773" r="6.6" fill="#000"/>
<circle cx="1020.8" cy="789.7" r="6.6" fill="#000"/>
<circle cx="1095.8" cy="809.6" r="6.6" fill="#000"/>
<circle cx="1170.8" cy="818.8" r="6.6" fill="#000"/>
<circle cx="1245.8" cy="835.3" r="6.6" fill="#000"/>
<circle cx="1320.8" cy="839.2" r="6.6" fill="#000"/>
</g>
<text transform="translate(743.6,0) rotate(-90) translate(-871.65,0) scale(1.0480,1)" font-size="31">Cholesterol flip flops</text>
<text transform="translate(743.6,0) rotate(-90) translate(-571.19,0) scale(1.1000,1)" font-size="31">(</text>
<text transform="translate(743.6,0) rotate(-90) translate(-557.69,0) scale(0.9396,1)" font-size="31" font-style="italic">μ</text>
<text transform="translate(743.6,0) rotate(-90) translate(-541.1,0) scale(0.9322,1)" font-size="31">s</text>
<text transform="translate(732.9,0) rotate(-90) translate(-525.08,0) scale(1.1951,1)" font-size="21.7">−</text>
<text transform="translate(732.9,0) rotate(-90) translate(-508.34,0) scale(0.9299,1)" font-size="21.7">1</text>
<text transform="translate(743.6,0) rotate(-90) translate(-494.52,0) scale(1.1000,1)" font-size="31">)</text>
<text transform="translate(811.56,482.1) scale(1.0773,1)" font-size="36.63" font-weight="bold" stroke="#000" stroke-width="0.6">D</text>
<text transform="translate(842.66,479.8) scale(1.1187,1)" font-size="33.26" font-weight="bold" stroke="#000" stroke-width="0.6">)</text>
<text transform="translate(961.02,917.06) scale(1.0133,1)" font-size="30.72">-</text>
<text transform="translate(978.12,917.8) scale(1.2475,1)" font-size="30.52">&lt;</text>
<text transform="translate(1006.74,917.19) scale(0.8746,1)" font-size="31.78">S</text>
<text transform="translate(1024.39,921.78) scale(0.8913,1)" font-size="22.6" font-style="italic">CH</text>
<text transform="translate(1060.9,917.8) scale(1.2610,1)" font-size="30.52">&gt;</text>
<text transform="translate(1089.99,921.8) scale(1.0211,1)" font-size="22.08" font-style="italic">acylchains</text>
<text transform="translate(102.8,26.5) scale(1.0901,1)" font-size="36.92" font-weight="bold" stroke="#000" stroke-width="0.6">A</text>
<text transform="translate(133.16,24.06) scale(1.1288,1)" font-size="33.9" font-weight="bold" stroke="#000" stroke-width="0.6">)</text>
</g></svg>
</body></html>
